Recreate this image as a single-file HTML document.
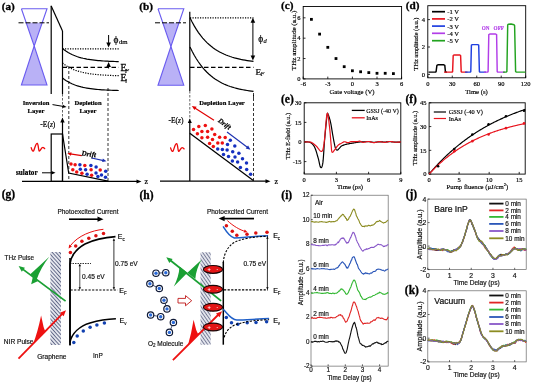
<!DOCTYPE html>
<html><head><meta charset="utf-8"><style>
html,body{margin:0;padding:0;background:#fff;width:533px;height:383px;overflow:hidden}
svg{display:block;will-change:transform}

</style></head><body>
<svg width="533" height="383" viewBox="0 0 533 383">
<rect width="533" height="383" fill="#fff"/>
<text x="1.7" y="9.5" font-family="Liberation Serif" font-size="11.2" text-anchor="start" font-weight="bold" font-style="normal" fill="#000" stroke="#000" stroke-width="0.291" >(a)</text>
<path d="M26.22,22.80 L42.18,22.80 L34.20,46.00" stroke="none" stroke-width="0" fill="#b9b1f6" />
<path d="M34.20,46.00 L21.40,85.00 L47.00,85.00" stroke="none" stroke-width="0" fill="#b9b1f6" />
<path d="M21.40,8.80 L47.00,8.80 L34.20,46.00 L21.40,8.80" stroke="#6a5cf0" stroke-width="1.1" fill="none" />
<path d="M34.20,46.00 L21.40,85.00 L47.00,85.00 L34.20,46.00" stroke="#6a5cf0" stroke-width="1.1" fill="none" />
<line x1="18.5" y1="22.8" x2="49" y2="22.8" stroke="#000" stroke-width="1" stroke-dasharray="5,2" />
<line x1="51.2" y1="5.7" x2="51.2" y2="94" stroke="#000" stroke-width="1.2" />
<line x1="51.2" y1="6" x2="62.5" y2="31" stroke="#000" stroke-width="1.2" />
<line x1="62.5" y1="31" x2="62.5" y2="94" stroke="#000" stroke-width="1.2" />
<line x1="62.5" y1="94" x2="62.5" y2="119" stroke="#555" stroke-width="0.9" stroke-dasharray="2.5,1.5" />
<line x1="62.5" y1="48.8" x2="118.7" y2="48.8" stroke="#000" stroke-width="1.3" stroke-dasharray="1.2,1.3" />
<path d="M62.50,48.50 L64.37,49.99 L66.25,51.32 L68.12,52.50 L69.99,53.55 L71.87,54.48 L73.74,55.31 L75.61,56.05 L77.49,56.71 L79.36,57.30 L81.23,57.82 L83.11,58.28 L84.98,58.69 L86.85,59.06 L88.73,59.38 L90.60,59.67 L92.47,59.93 L94.35,60.16 L96.22,60.36 L98.09,60.54 L99.97,60.70 L101.84,60.85 L103.71,60.98 L105.59,61.09 L107.46,61.19 L109.33,61.28 L111.21,61.36 L113.08,61.43 L114.95,61.49 L116.83,61.55 L118.70,61.60" stroke="#000" stroke-width="1.2" fill="none" />
<line x1="62.5" y1="67.4" x2="118.7" y2="67.4" stroke="#000" stroke-width="1.1" stroke-dasharray="4.5,2.5" />
<path d="M62.50,63.00 L64.37,64.45 L66.25,65.73 L68.12,66.88 L69.99,67.90 L71.87,68.80 L73.74,69.61 L75.61,70.32 L77.49,70.96 L79.36,71.53 L81.23,72.03 L83.11,72.48 L84.98,72.88 L86.85,73.23 L88.73,73.55 L90.60,73.83 L92.47,74.08 L94.35,74.30 L96.22,74.50 L98.09,74.68 L99.97,74.83 L101.84,74.97 L103.71,75.09 L105.59,75.20 L107.46,75.30 L109.33,75.39 L111.21,75.47 L113.08,75.54 L114.95,75.60 L116.83,75.65 L118.70,75.70" stroke="#000" stroke-width="1.2" fill="none" stroke-dasharray="1.2,1.3" />
<path d="M62.50,78.00 L64.37,79.42 L66.25,80.69 L68.12,81.82 L69.99,82.82 L71.87,83.71 L73.74,84.50 L75.61,85.21 L77.49,85.83 L79.36,86.39 L81.23,86.89 L83.11,87.33 L84.98,87.72 L86.85,88.07 L88.73,88.38 L90.60,88.66 L92.47,88.91 L94.35,89.12 L96.22,89.32 L98.09,89.49 L99.97,89.65 L101.84,89.78 L103.71,89.90 L105.59,90.01 L107.46,90.11 L109.33,90.19 L111.21,90.27 L113.08,90.34 L114.95,90.40 L116.83,90.45 L118.70,90.50" stroke="#000" stroke-width="1.2" fill="none" />
<line x1="108.6" y1="35" x2="108.6" y2="44.1" stroke="#000" stroke-width="1" />
<path d="M108.60,47.60 L106.30,42.60 L110.90,42.60 Z" fill="#000"/>
<line x1="108.6" y1="68.5" x2="108.6" y2="65.4" stroke="#000" stroke-width="1" />
<path d="M108.60,61.90 L110.90,66.90 L106.30,66.90 Z" fill="#000"/>
<text x="113.4" y="43" font-family="Liberation Serif" font-size="9.4" text-anchor="start" font-weight="normal" font-style="normal" fill="#000" stroke="#000" stroke-width="0.244" >ϕ</text>
<text x="118.9" y="44.4" font-family="Liberation Serif" font-size="6.8" text-anchor="start" font-weight="normal" font-style="normal" fill="#000" stroke="#000" stroke-width="0.177" >dm</text>
<text x="120.6" y="70.9" font-family="Liberation Serif" font-size="9.9" text-anchor="start" font-weight="normal" font-style="normal" fill="#000" stroke="#000" stroke-width="0.257" >E</text>
<text x="124.9" y="72.6" font-family="Liberation Serif" font-size="6.6" text-anchor="start" font-weight="normal" font-style="italic" fill="#000" stroke="#000" stroke-width="0.172" >F</text>
<text x="120.6" y="81" font-family="Liberation Serif" font-size="9.9" text-anchor="start" font-weight="normal" font-style="normal" fill="#000" stroke="#000" stroke-width="0.257" >E</text>
<text x="125.3" y="83" font-family="Liberation Serif" font-size="6.6" text-anchor="start" font-weight="normal" font-style="italic" fill="#000" stroke="#000" stroke-width="0.172" >i</text>
<line x1="68.8" y1="66" x2="68.8" y2="181" stroke="#000" stroke-width="0.8" stroke-dasharray="3,2" />
<line x1="108" y1="88" x2="108" y2="181" stroke="#000" stroke-width="0.8" stroke-dasharray="3,2" />
<text x="36" y="104.5" font-family="Liberation Serif" font-size="6.6" text-anchor="middle" font-weight="bold" font-style="normal" fill="#000" stroke="#000" stroke-width="0.172" >Inversion</text>
<text x="36" y="112.5" font-family="Liberation Serif" font-size="6.6" text-anchor="middle" font-weight="bold" font-style="normal" fill="#000" stroke="#000" stroke-width="0.172" >Layer</text>
<text x="88" y="104.5" font-family="Liberation Serif" font-size="6.6" text-anchor="middle" font-weight="bold" font-style="normal" fill="#000" stroke="#000" stroke-width="0.172" >Depletion</text>
<text x="88" y="113" font-family="Liberation Serif" font-size="6.6" text-anchor="middle" font-weight="bold" font-style="normal" fill="#000" stroke="#000" stroke-width="0.172" >Layer</text>
<line x1="52.5" y1="104.6" x2="63.83970072460444" y2="106.53016182546459" stroke="#000" stroke-width="1" />
<path d="M66.60,107.00 L62.37,108.00 L62.94,104.65 Z" fill="#000"/>
<text x="40.3" y="127.3" font-family="Liberation Serif" font-size="7.5" text-anchor="start" font-weight="normal" font-style="normal" fill="#000" stroke="#000" stroke-width="0.195" >-E(<tspan font-style="italic">z</tspan>)</text>
<line x1="62.5" y1="181" x2="62.5" y2="121.0" stroke="#000" stroke-width="1.2" />
<path d="M62.50,117.50 L64.70,122.50 L60.30,122.50 Z" fill="#000"/>
<rect x="51.2" y="134" width="11.3" height="47.4" fill="none" stroke="#000" stroke-width="1.2"/>
<path d="M62.50,134.00 L68.70,173.00 L108.00,181.20" stroke="#000" stroke-width="1.2" fill="none" />
<line x1="22" y1="181.4" x2="138.0" y2="181.4" stroke="#000" stroke-width="1.2" />
<path d="M141.50,181.40 L136.50,183.40 L136.50,179.40 Z" fill="#000"/>
<text x="144.5" y="184" font-family="Liberation Serif" font-size="8" text-anchor="start" font-weight="normal" font-style="normal" fill="#000" stroke="#000" stroke-width="0.208" >z</text>
<path d="M31.2,147.6 C32,150.5 32.8,151.8 33.6,150.8 C34.5,149.5 35.8,142.8 37.3,143.4 C38.5,144 38.4,151.5 39.5,151 C40.5,150.5 41.5,147.5 42.8,147.4 C43.5,147.3 44,148.2 44.7,148.6" stroke="#ee0a0a" stroke-width="1.3" fill="none" transform="translate(0,0)" stroke-linecap="round" stroke-linejoin="round"/>
<clipPath id="clipIns"><rect x="16" y="160" width="40" height="20"/></clipPath>
<text x="37.6" y="175.4" font-family="Liberation Serif" font-size="7.2" text-anchor="end" font-weight="bold" font-style="normal" fill="#000" stroke="#000" stroke-width="0.187" clip-path="url(#clipIns)">Insulator</text>
<line x1="42" y1="172.8" x2="52.7" y2="172.8" stroke="#000" stroke-width="1" />
<path d="M55.50,172.80 L51.50,174.60 L51.50,171.00 Z" fill="#000"/>
<line x1="81.7" y1="155.6" x2="70.06788367148081" y2="153.82287111647625" stroke="#e00000" stroke-width="1.2" />
<path d="M67.30,153.40 L71.53,152.22 L70.98,155.78 Z" fill="#e00000"/>
<text x="0" y="0" font-family="Liberation Serif" font-size="7.3" text-anchor="start" font-weight="bold" font-style="italic" fill="#000" stroke="#000" stroke-width="0.19" transform="translate(81.3,155.6) rotate(6)">Drift</text>
<line x1="91.6" y1="158" x2="103.66324033676838" y2="160.6082681809229" stroke="#1a2fb0" stroke-width="1.2" />
<path d="M106.40,161.20 L102.11,162.11 L102.87,158.60 Z" fill="#1a2fb0"/>
<circle cx="71.00" cy="164.00" r="1.75" fill="#ee1111" stroke="none" stroke-width="0"/>
<circle cx="75.10" cy="164.80" r="1.75" fill="#ee1111" stroke="none" stroke-width="0"/>
<circle cx="79.90" cy="164.80" r="1.75" fill="#1530c0" stroke="none" stroke-width="0"/>
<circle cx="84.80" cy="165.40" r="1.75" fill="#ee1111" stroke="none" stroke-width="0"/>
<circle cx="90.90" cy="165.40" r="1.75" fill="#1530c0" stroke="none" stroke-width="0"/>
<circle cx="96.10" cy="167.10" r="1.75" fill="#1530c0" stroke="none" stroke-width="0"/>
<circle cx="72.80" cy="169.70" r="1.75" fill="#ee1111" stroke="none" stroke-width="0"/>
<circle cx="80.30" cy="169.20" r="1.75" fill="#1530c0" stroke="none" stroke-width="0"/>
<circle cx="85.60" cy="169.80" r="1.75" fill="#1530c0" stroke="none" stroke-width="0"/>
<circle cx="91.10" cy="169.80" r="1.75" fill="#ee1111" stroke="none" stroke-width="0"/>
<circle cx="100.20" cy="170.10" r="1.75" fill="#ee1111" stroke="none" stroke-width="0"/>
<circle cx="105.70" cy="171.30" r="1.75" fill="#1530c0" stroke="none" stroke-width="0"/>
<circle cx="76.70" cy="171.90" r="1.75" fill="#ee1111" stroke="none" stroke-width="0"/>
<circle cx="81.90" cy="173.20" r="1.75" fill="#ee1111" stroke="none" stroke-width="0"/>
<circle cx="87.10" cy="174.20" r="1.75" fill="#1530c0" stroke="none" stroke-width="0"/>
<circle cx="91.60" cy="175.30" r="1.75" fill="#ee1111" stroke="none" stroke-width="0"/>
<circle cx="96.00" cy="173.00" r="1.75" fill="#1530c0" stroke="none" stroke-width="0"/>
<circle cx="101.50" cy="175.00" r="1.75" fill="#1530c0" stroke="none" stroke-width="0"/>
<circle cx="97.90" cy="176.50" r="1.75" fill="#1530c0" stroke="none" stroke-width="0"/>
<circle cx="105.50" cy="177.20" r="1.75" fill="#1530c0" stroke="none" stroke-width="0"/>
<text x="139.2" y="9.5" font-family="Liberation Serif" font-size="11.2" text-anchor="start" font-weight="bold" font-style="normal" fill="#000" stroke="#000" stroke-width="0.291" >(b)</text>
<path d="M162.79,22.80 L179.01,22.80 L170.90,46.50" stroke="none" stroke-width="0" fill="#b9b1f6" />
<path d="M170.90,46.50 L158.00,85.30 L183.80,85.30" stroke="none" stroke-width="0" fill="#b9b1f6" />
<path d="M158.00,8.80 L183.80,8.80 L170.90,46.50 L158.00,8.80" stroke="#6a5cf0" stroke-width="1.1" fill="none" />
<path d="M170.90,46.50 L158.00,85.30 L183.80,85.30 L170.90,46.50" stroke="#6a5cf0" stroke-width="1.1" fill="none" />
<line x1="155" y1="22.8" x2="186" y2="22.8" stroke="#000" stroke-width="1" stroke-dasharray="5,2" />
<line x1="189.8" y1="11.7" x2="189.8" y2="91" stroke="#000" stroke-width="1.2" />
<line x1="189.8" y1="91" x2="189.8" y2="120" stroke="#555" stroke-width="0.9" stroke-dasharray="2.5,1.5" />
<line x1="253.5" y1="93" x2="253.5" y2="181" stroke="#000" stroke-width="0.8" stroke-dasharray="3,2" />
<line x1="190" y1="17.8" x2="253.5" y2="17.8" stroke="#000" stroke-width="1.3" stroke-dasharray="1.2,1.3" />
<path d="M190.00,17.80 L192.12,22.04 L194.23,25.88 L196.35,29.38 L198.47,32.55 L200.58,35.43 L202.70,38.05 L204.82,40.43 L206.93,42.59 L209.05,44.55 L211.17,46.33 L213.28,47.95 L215.40,49.42 L217.52,50.76 L219.63,51.97 L221.75,53.07 L223.87,54.07 L225.98,54.98 L228.10,55.80 L230.22,56.55 L232.33,57.23 L234.45,57.85 L236.57,58.41 L238.68,58.92 L240.80,59.39 L242.92,59.81 L245.03,60.19 L247.15,60.54 L249.27,60.85 L251.38,61.14 L253.50,61.40" stroke="#000" stroke-width="1.2" fill="none" />
<line x1="190" y1="67.4" x2="253.5" y2="67.4" stroke="#000" stroke-width="1.1" stroke-dasharray="4.5,2.5" />
<path d="M190.00,47.00 L192.12,51.31 L194.23,55.23 L196.35,58.79 L198.47,62.02 L200.58,64.96 L202.70,67.62 L204.82,70.04 L206.93,72.24 L209.05,74.24 L211.17,76.06 L213.28,77.70 L215.40,79.20 L217.52,80.56 L219.63,81.80 L221.75,82.92 L223.87,83.94 L225.98,84.86 L228.10,85.70 L230.22,86.46 L232.33,87.16 L234.45,87.79 L236.57,88.36 L238.68,88.88 L240.80,89.35 L242.92,89.78 L245.03,90.17 L247.15,90.52 L249.27,90.84 L251.38,91.14 L253.50,91.40" stroke="#000" stroke-width="1.2" fill="none" />
<line x1="252.9" y1="40" x2="252.9" y2="21.3" stroke="#000" stroke-width="1" />
<path d="M252.90,17.80 L255.20,22.80 L250.60,22.80 Z" fill="#000"/>
<line x1="252.9" y1="40" x2="252.9" y2="57.1" stroke="#000" stroke-width="1" />
<path d="M252.90,60.60 L250.60,55.60 L255.20,55.60 Z" fill="#000"/>
<text x="258.2" y="41.9" font-family="Liberation Serif" font-size="9.4" text-anchor="start" font-weight="normal" font-style="normal" fill="#000" stroke="#000" stroke-width="0.244" >ϕ</text>
<text x="263.4" y="43.2" font-family="Liberation Serif" font-size="6.4" text-anchor="start" font-weight="normal" font-style="italic" fill="#000" stroke="#000" stroke-width="0.166" >d</text>
<text x="255.4" y="74.5" font-family="Liberation Serif" font-size="9.2" text-anchor="start" font-weight="normal" font-style="normal" fill="#000" stroke="#000" stroke-width="0.239" >E</text>
<text x="260.4" y="76.3" font-family="Liberation Serif" font-size="6.2" text-anchor="start" font-weight="normal" font-style="italic" fill="#000" stroke="#000" stroke-width="0.161" >F</text>
<line x1="253.5" y1="95" x2="253.5" y2="98" stroke="#000" stroke-width="0.8" />
<text x="222" y="104.5" font-family="Liberation Serif" font-size="6.6" text-anchor="middle" font-weight="bold" font-style="normal" fill="#000" stroke="#000" stroke-width="0.172" >Depletion Layer</text>
<text x="168.5" y="123.3" font-family="Liberation Serif" font-size="7.5" text-anchor="start" font-weight="normal" font-style="normal" fill="#000" stroke="#000" stroke-width="0.195" >-E(<tspan font-style="italic">z</tspan>)</text>
<line x1="189.8" y1="181" x2="189.8" y2="121.65" stroke="#000" stroke-width="1.2" />
<path d="M189.80,118.50 L191.80,123.00 L187.80,123.00 Z" fill="#000"/>
<path d="M189.80,133.30 L253.30,180.50" stroke="#000" stroke-width="1.3" fill="none" />
<line x1="160" y1="181.2" x2="267.0" y2="181.2" stroke="#000" stroke-width="1.2" />
<path d="M270.50,181.20 L265.50,183.20 L265.50,179.20 Z" fill="#000"/>
<text x="274.6" y="184" font-family="Liberation Serif" font-size="8" text-anchor="start" font-weight="normal" font-style="normal" fill="#000" stroke="#000" stroke-width="0.208" >z</text>
<path d="M31.2,147.6 C32,150.5 32.8,151.8 33.6,150.8 C34.5,149.5 35.8,142.8 37.3,143.4 C38.5,144 38.4,151.5 39.5,151 C40.5,150.5 41.5,147.5 42.8,147.4 C43.5,147.3 44,148.2 44.7,148.6" stroke="#ee0a0a" stroke-width="1.3" fill="none" transform="translate(139.4,0.3)" stroke-linecap="round" stroke-linejoin="round"/>
<line x1="214" y1="120.3" x2="194.44816080586278" y2="107.70579727584854" stroke="#e00000" stroke-width="1.1" />
<path d="M191.80,106.00 L196.67,106.76 L194.50,110.12 Z" fill="#e00000"/>
<text x="0" y="0" font-family="Liberation Serif" font-size="7" text-anchor="start" font-weight="bold" font-style="italic" fill="#000" stroke="#000" stroke-width="0.182" transform="translate(217.5,121.5) rotate(37)">Drift</text>
<line x1="227" y1="132" x2="247.9838597533827" y2="147.80486458020738" stroke="#1a2fb0" stroke-width="1.1" />
<path d="M250.50,149.70 L245.70,148.59 L248.11,145.40 Z" fill="#1a2fb0"/>
<circle cx="198.80" cy="126.40" r="1.75" fill="#ee1111" stroke="none" stroke-width="0"/>
<circle cx="205.30" cy="125.60" r="1.75" fill="#ee1111" stroke="none" stroke-width="0"/>
<circle cx="193.50" cy="129.50" r="1.75" fill="#ee1111" stroke="none" stroke-width="0"/>
<circle cx="201.90" cy="131.60" r="1.75" fill="#ee1111" stroke="none" stroke-width="0"/>
<circle cx="207.60" cy="131.60" r="1.75" fill="#ee1111" stroke="none" stroke-width="0"/>
<circle cx="211.90" cy="129.00" r="1.75" fill="#ee1111" stroke="none" stroke-width="0"/>
<circle cx="197.40" cy="133.70" r="1.75" fill="#ee1111" stroke="none" stroke-width="0"/>
<circle cx="214.70" cy="134.50" r="1.75" fill="#ee1111" stroke="none" stroke-width="0"/>
<circle cx="201.90" cy="137.80" r="1.75" fill="#ee1111" stroke="none" stroke-width="0"/>
<circle cx="207.60" cy="137.20" r="1.75" fill="#ee1111" stroke="none" stroke-width="0"/>
<circle cx="212.50" cy="139.60" r="1.75" fill="#ee1111" stroke="none" stroke-width="0"/>
<circle cx="219.60" cy="137.20" r="1.75" fill="#ee1111" stroke="none" stroke-width="0"/>
<circle cx="225.20" cy="137.40" r="1.75" fill="#ee1111" stroke="none" stroke-width="0"/>
<circle cx="209.60" cy="143.50" r="1.75" fill="#ee1111" stroke="none" stroke-width="0"/>
<circle cx="217.80" cy="142.90" r="1.75" fill="#ee1111" stroke="none" stroke-width="0"/>
<circle cx="222.30" cy="142.90" r="1.75" fill="#ee1111" stroke="none" stroke-width="0"/>
<circle cx="213.30" cy="146.60" r="1.75" fill="#ee1111" stroke="none" stroke-width="0"/>
<circle cx="230.30" cy="140.20" r="1.75" fill="#1530c0" stroke="none" stroke-width="0"/>
<circle cx="227.50" cy="144.40" r="1.75" fill="#1530c0" stroke="none" stroke-width="0"/>
<circle cx="234.80" cy="146.00" r="1.75" fill="#1530c0" stroke="none" stroke-width="0"/>
<circle cx="217.70" cy="149.10" r="1.75" fill="#1530c0" stroke="none" stroke-width="0"/>
<circle cx="222.40" cy="149.60" r="1.75" fill="#1530c0" stroke="none" stroke-width="0"/>
<circle cx="227.10" cy="150.10" r="1.75" fill="#1530c0" stroke="none" stroke-width="0"/>
<circle cx="232.70" cy="151.70" r="1.75" fill="#1530c0" stroke="none" stroke-width="0"/>
<circle cx="238.90" cy="153.30" r="1.75" fill="#1530c0" stroke="none" stroke-width="0"/>
<circle cx="223.50" cy="154.60" r="1.75" fill="#1530c0" stroke="none" stroke-width="0"/>
<circle cx="228.50" cy="156.40" r="1.75" fill="#1530c0" stroke="none" stroke-width="0"/>
<circle cx="235.00" cy="157.10" r="1.75" fill="#1530c0" stroke="none" stroke-width="0"/>
<circle cx="242.50" cy="158.80" r="1.75" fill="#1530c0" stroke="none" stroke-width="0"/>
<circle cx="232.40" cy="161.10" r="1.75" fill="#1530c0" stroke="none" stroke-width="0"/>
<circle cx="237.60" cy="161.90" r="1.75" fill="#1530c0" stroke="none" stroke-width="0"/>
<circle cx="246.50" cy="163.00" r="1.75" fill="#1530c0" stroke="none" stroke-width="0"/>
<circle cx="240.40" cy="167.40" r="1.75" fill="#1530c0" stroke="none" stroke-width="0"/>
<circle cx="246.70" cy="169.50" r="1.75" fill="#1530c0" stroke="none" stroke-width="0"/>
<circle cx="250.60" cy="174.20" r="1.75" fill="#1530c0" stroke="none" stroke-width="0"/>
<text x="281" y="9.2" font-family="Liberation Serif" font-size="11.2" text-anchor="start" font-weight="bold" font-style="normal" fill="#000" stroke="#000" stroke-width="0.291" >(c)</text>
<rect x="303.2" y="6.5" width="98.4" height="72.4" fill="none" stroke="#000" stroke-width="0.9"/>
<line x1="303.2" y1="78.9" x2="305.5" y2="78.9" stroke="#000" stroke-width="0.8" />
<text x="300.5" y="81.2" font-family="Liberation Serif" font-size="6.5" text-anchor="end" font-weight="normal" font-style="normal" fill="#000" stroke="#000" stroke-width="0.169" >0</text>
<line x1="303.2" y1="58.540000000000006" x2="305.5" y2="58.540000000000006" stroke="#000" stroke-width="0.8" />
<text x="300.5" y="60.84" font-family="Liberation Serif" font-size="6.5" text-anchor="end" font-weight="normal" font-style="normal" fill="#000" stroke="#000" stroke-width="0.169" >2</text>
<line x1="303.2" y1="38.18000000000001" x2="305.5" y2="38.18000000000001" stroke="#000" stroke-width="0.8" />
<text x="300.5" y="40.480000000000004" font-family="Liberation Serif" font-size="6.5" text-anchor="end" font-weight="normal" font-style="normal" fill="#000" stroke="#000" stroke-width="0.169" >4</text>
<line x1="303.2" y1="17.820000000000007" x2="305.5" y2="17.820000000000007" stroke="#000" stroke-width="0.8" />
<text x="300.5" y="20.120000000000008" font-family="Liberation Serif" font-size="6.5" text-anchor="end" font-weight="normal" font-style="normal" fill="#000" stroke="#000" stroke-width="0.169" >6</text>
<line x1="303.2" y1="78.9" x2="303.2" y2="76.6" stroke="#000" stroke-width="0.8" />
<text x="303.2" y="86.3" font-family="Liberation Serif" font-size="6.5" text-anchor="middle" font-weight="normal" font-style="normal" fill="#000" stroke="#000" stroke-width="0.169" >-6</text>
<line x1="327.8" y1="78.9" x2="327.8" y2="76.6" stroke="#000" stroke-width="0.8" />
<text x="327.8" y="86.3" font-family="Liberation Serif" font-size="6.5" text-anchor="middle" font-weight="normal" font-style="normal" fill="#000" stroke="#000" stroke-width="0.169" >-3</text>
<line x1="352.4" y1="78.9" x2="352.4" y2="76.6" stroke="#000" stroke-width="0.8" />
<text x="352.4" y="86.3" font-family="Liberation Serif" font-size="6.5" text-anchor="middle" font-weight="normal" font-style="normal" fill="#000" stroke="#000" stroke-width="0.169" >0</text>
<line x1="377.0" y1="78.9" x2="377.0" y2="76.6" stroke="#000" stroke-width="0.8" />
<text x="377.0" y="86.3" font-family="Liberation Serif" font-size="6.5" text-anchor="middle" font-weight="normal" font-style="normal" fill="#000" stroke="#000" stroke-width="0.169" >3</text>
<line x1="401.59999999999997" y1="78.9" x2="401.59999999999997" y2="76.6" stroke="#000" stroke-width="0.8" />
<text x="401.59999999999997" y="86.3" font-family="Liberation Serif" font-size="6.5" text-anchor="middle" font-weight="normal" font-style="normal" fill="#000" stroke="#000" stroke-width="0.169" >6</text>
<text x="352" y="94" font-family="Liberation Serif" font-size="6.7" text-anchor="middle" font-weight="normal" font-style="normal" fill="#000" stroke="#000" stroke-width="0.174" >Gate voltage (V)</text>
<text x="0" y="0" font-family="Liberation Serif" font-size="7.1" text-anchor="middle" font-weight="normal" font-style="normal" fill="#000" stroke="#000" stroke-width="0.185" transform="translate(295.6,40.4) rotate(-90)">THz amplitude (a.u.)</text>
<rect x="310.00" y="17.95" width="2.8" height="2.8" fill="#000"/>
<rect x="318.20" y="32.71" width="2.8" height="2.8" fill="#000"/>
<rect x="326.40" y="45.94" width="2.8" height="2.8" fill="#000"/>
<rect x="334.60" y="57.14" width="2.8" height="2.8" fill="#000"/>
<rect x="342.80" y="65.28" width="2.8" height="2.8" fill="#000"/>
<rect x="351.00" y="69.36" width="2.8" height="2.8" fill="#000"/>
<rect x="359.20" y="70.37" width="2.8" height="2.8" fill="#000"/>
<rect x="367.40" y="71.19" width="2.8" height="2.8" fill="#000"/>
<rect x="375.60" y="71.90" width="2.8" height="2.8" fill="#000"/>
<rect x="383.80" y="71.90" width="2.8" height="2.8" fill="#000"/>
<rect x="392.00" y="72.21" width="2.8" height="2.8" fill="#000"/>
<text x="405.7" y="9.4" font-family="Liberation Serif" font-size="11.2" text-anchor="start" font-weight="bold" font-style="normal" fill="#000" stroke="#000" stroke-width="0.291" >(d)</text>
<rect x="427.8" y="5.7" width="97.9" height="72.1" fill="none" stroke="#000" stroke-width="0.9"/>
<line x1="427.8" y1="74.4" x2="430" y2="74.4" stroke="#000" stroke-width="0.8" />
<text x="425" y="76.7" font-family="Liberation Serif" font-size="6.5" text-anchor="end" font-weight="normal" font-style="normal" fill="#000" stroke="#000" stroke-width="0.169" >0</text>
<line x1="427.8" y1="47.00000000000001" x2="430" y2="47.00000000000001" stroke="#000" stroke-width="0.8" />
<text x="425" y="49.300000000000004" font-family="Liberation Serif" font-size="6.5" text-anchor="end" font-weight="normal" font-style="normal" fill="#000" stroke="#000" stroke-width="0.169" >2</text>
<line x1="427.8" y1="19.60000000000001" x2="430" y2="19.60000000000001" stroke="#000" stroke-width="0.8" />
<text x="425" y="21.90000000000001" font-family="Liberation Serif" font-size="6.5" text-anchor="end" font-weight="normal" font-style="normal" fill="#000" stroke="#000" stroke-width="0.169" >4</text>
<line x1="427.8" y1="77.8" x2="427.8" y2="75.6" stroke="#000" stroke-width="0.8" />
<text x="427.8" y="86.3" font-family="Liberation Serif" font-size="6.5" text-anchor="middle" font-weight="normal" font-style="normal" fill="#000" stroke="#000" stroke-width="0.169" >0</text>
<line x1="452.27500000000003" y1="77.8" x2="452.27500000000003" y2="75.6" stroke="#000" stroke-width="0.8" />
<text x="452.27500000000003" y="86.3" font-family="Liberation Serif" font-size="6.5" text-anchor="middle" font-weight="normal" font-style="normal" fill="#000" stroke="#000" stroke-width="0.169" >30</text>
<line x1="476.75" y1="77.8" x2="476.75" y2="75.6" stroke="#000" stroke-width="0.8" />
<text x="476.75" y="86.3" font-family="Liberation Serif" font-size="6.5" text-anchor="middle" font-weight="normal" font-style="normal" fill="#000" stroke="#000" stroke-width="0.169" >60</text>
<line x1="501.225" y1="77.8" x2="501.225" y2="75.6" stroke="#000" stroke-width="0.8" />
<text x="501.225" y="86.3" font-family="Liberation Serif" font-size="6.5" text-anchor="middle" font-weight="normal" font-style="normal" fill="#000" stroke="#000" stroke-width="0.169" >90</text>
<line x1="525.7" y1="77.8" x2="525.7" y2="75.6" stroke="#000" stroke-width="0.8" />
<text x="525.7" y="86.3" font-family="Liberation Serif" font-size="6.5" text-anchor="middle" font-weight="normal" font-style="normal" fill="#000" stroke="#000" stroke-width="0.169" >120</text>
<text x="476.5" y="93.5" font-family="Liberation Serif" font-size="6.7" text-anchor="middle" font-weight="normal" font-style="normal" fill="#000" stroke="#000" stroke-width="0.174" >Time (s)</text>
<text x="0" y="0" font-family="Liberation Serif" font-size="6.3" text-anchor="middle" font-weight="normal" font-style="normal" fill="#000" stroke="#000" stroke-width="0.164" transform="translate(417.6,44) rotate(-90)">THz amplitude (a.u.)</text>
<line x1="432" y1="11.7" x2="445" y2="11.7" stroke="#000000" stroke-width="1.7" />
<text x="447.2" y="14.1" font-family="Liberation Serif" font-size="6.6" text-anchor="start" font-weight="normal" font-style="normal" fill="#000" stroke="#000" stroke-width="0.172" >-1 V</text>
<line x1="432" y1="18.9" x2="445" y2="18.9" stroke="#e8141e" stroke-width="1.7" />
<text x="447.2" y="21.299999999999997" font-family="Liberation Serif" font-size="6.6" text-anchor="start" font-weight="normal" font-style="normal" fill="#000" stroke="#000" stroke-width="0.172" >-2 V</text>
<line x1="432" y1="26.1" x2="445" y2="26.1" stroke="#1f3fe0" stroke-width="1.7" />
<text x="447.2" y="28.5" font-family="Liberation Serif" font-size="6.6" text-anchor="start" font-weight="normal" font-style="normal" fill="#000" stroke="#000" stroke-width="0.172" >-3 V</text>
<line x1="432" y1="33.3" x2="445" y2="33.3" stroke="#b23ee8" stroke-width="1.7" />
<text x="447.2" y="35.699999999999996" font-family="Liberation Serif" font-size="6.6" text-anchor="start" font-weight="normal" font-style="normal" fill="#000" stroke="#000" stroke-width="0.172" >-4 V</text>
<line x1="432" y1="40.7" x2="445" y2="40.7" stroke="#22a31f" stroke-width="1.7" />
<text x="447.2" y="43.1" font-family="Liberation Serif" font-size="6.6" text-anchor="start" font-weight="normal" font-style="normal" fill="#000" stroke="#000" stroke-width="0.172" >-5 V</text>
<text x="481.8" y="30.4" font-family="Liberation Serif" font-size="5.2" text-anchor="start" font-weight="bold" font-style="normal" fill="#b23ee8" stroke="#b23ee8" stroke-width="0.135" >ON</text>
<text x="493.6" y="30.4" font-family="Liberation Serif" font-size="5.2" text-anchor="start" font-weight="bold" font-style="normal" fill="#b23ee8" stroke="#b23ee8" stroke-width="0.135" >OFF</text>
<path d="M428.50,72.10 L435.50,72.10 L436.10,71.60 L436.90,65.40 L437.90,64.80 L443.80,64.80 L444.80,65.40 L445.40,71.60 L446.00,72.10 L447.00,72.10" stroke="#000000" stroke-width="1.45" fill="none" stroke-linejoin="round"/>
<path d="M444.00,72.10 L452.00,72.10 L452.60,71.60 L453.20,55.50 L454.20,54.90 L459.60,54.90 L460.60,55.50 L461.20,71.60 L461.80,72.10 L467.50,72.10" stroke="#e8141e" stroke-width="1.45" fill="none" stroke-linejoin="round"/>
<path d="M465.00,72.10 L470.20,72.10 L470.80,71.60 L471.40,45.20 L472.40,44.60 L477.70,44.60 L478.70,45.20 L479.40,71.60 L480.00,72.10 L486.00,72.10" stroke="#1f3fe0" stroke-width="1.45" fill="none" stroke-linejoin="round"/>
<path d="M484.00,72.10 L487.50,72.10 L488.10,71.60 L488.80,34.60 L489.80,34.00 L495.60,34.00 L496.60,34.60 L497.20,71.60 L497.80,72.10 L505.00,72.10" stroke="#b23ee8" stroke-width="1.45" fill="none" stroke-linejoin="round"/>
<path d="M503.00,72.10 L506.30,72.10 L506.90,71.50 L507.70,25.00 L508.30,24.30 L511.00,24.00 L514.00,24.80 L514.60,25.40 L515.60,71.50 L516.20,72.10 L525.50,72.10" stroke="#22a31f" stroke-width="1.45" fill="none" stroke-linejoin="round"/>
<text x="281" y="103" font-family="Liberation Serif" font-size="11.5" text-anchor="start" font-weight="bold" font-style="normal" fill="#000" stroke="#000" stroke-width="0.299" >(e)</text>
<rect x="304.2" y="102.8" width="96.6" height="71.2" fill="none" stroke="#000" stroke-width="0.9"/>
<line x1="304.2" y1="102.78999999999999" x2="306.4" y2="102.78999999999999" stroke="#000" stroke-width="0.8" />
<text x="301.5" y="105.08999999999999" font-family="Liberation Serif" font-size="6.5" text-anchor="end" font-weight="normal" font-style="normal" fill="#000" stroke="#000" stroke-width="0.169" >30</text>
<line x1="304.2" y1="122.395" x2="306.4" y2="122.395" stroke="#000" stroke-width="0.8" />
<text x="301.5" y="124.695" font-family="Liberation Serif" font-size="6.5" text-anchor="end" font-weight="normal" font-style="normal" fill="#000" stroke="#000" stroke-width="0.169" >15</text>
<line x1="304.2" y1="142.0" x2="306.4" y2="142.0" stroke="#000" stroke-width="0.8" />
<text x="301.5" y="144.3" font-family="Liberation Serif" font-size="6.5" text-anchor="end" font-weight="normal" font-style="normal" fill="#000" stroke="#000" stroke-width="0.169" >0</text>
<line x1="304.2" y1="161.605" x2="306.4" y2="161.605" stroke="#000" stroke-width="0.8" />
<text x="301.5" y="163.905" font-family="Liberation Serif" font-size="6.5" text-anchor="end" font-weight="normal" font-style="normal" fill="#000" stroke="#000" stroke-width="0.169" >-15</text>
<line x1="304.2" y1="174" x2="304.2" y2="171.8" stroke="#000" stroke-width="0.8" />
<text x="304.2" y="181.5" font-family="Liberation Serif" font-size="6.5" text-anchor="middle" font-weight="normal" font-style="normal" fill="#000" stroke="#000" stroke-width="0.169" >0</text>
<line x1="336.399" y1="174" x2="336.399" y2="171.8" stroke="#000" stroke-width="0.8" />
<text x="336.399" y="181.5" font-family="Liberation Serif" font-size="6.5" text-anchor="middle" font-weight="normal" font-style="normal" fill="#000" stroke="#000" stroke-width="0.169" >3</text>
<line x1="368.59799999999996" y1="174" x2="368.59799999999996" y2="171.8" stroke="#000" stroke-width="0.8" />
<text x="368.59799999999996" y="181.5" font-family="Liberation Serif" font-size="6.5" text-anchor="middle" font-weight="normal" font-style="normal" fill="#000" stroke="#000" stroke-width="0.169" >6</text>
<line x1="400.797" y1="174" x2="400.797" y2="171.8" stroke="#000" stroke-width="0.8" />
<text x="400.797" y="181.5" font-family="Liberation Serif" font-size="6.5" text-anchor="middle" font-weight="normal" font-style="normal" fill="#000" stroke="#000" stroke-width="0.169" >9</text>
<text x="350" y="188.5" font-family="Liberation Serif" font-size="6.7" text-anchor="middle" font-weight="normal" font-style="normal" fill="#000" stroke="#000" stroke-width="0.174" >Time (ps)</text>
<text x="0" y="0" font-family="Liberation Serif" font-size="6.5" text-anchor="middle" font-weight="normal" font-style="normal" fill="#000" stroke="#000" stroke-width="0.169" transform="translate(290,136) rotate(-90)">THz E-field (a.u.)</text>
<line x1="351.8" y1="110.4" x2="364.7" y2="110.4" stroke="#000" stroke-width="1.3" />
<text x="366.2" y="112.5" font-family="Liberation Serif" font-size="6.0" text-anchor="start" font-weight="normal" font-style="normal" fill="#000" stroke="#000" stroke-width="0.156" >GSSJ (-40 V)</text>
<line x1="351.8" y1="117.8" x2="364.7" y2="117.8" stroke="#e8141e" stroke-width="1.3" />
<text x="366.2" y="120.1" font-family="Liberation Serif" font-size="6.0" text-anchor="start" font-weight="normal" font-style="normal" fill="#000" stroke="#000" stroke-width="0.156" >InAs</text>
<path d="M304.20,142.00 L304.67,142.00 L305.30,141.97 L306.05,141.93 L306.88,141.91 L307.74,141.92 L308.59,141.99 L309.40,142.14 L310.10,142.39 L310.73,142.72 L311.33,143.10 L311.90,143.54 L312.45,144.04 L312.98,144.63 L313.50,145.30 L314.00,146.08 L314.50,146.97 L314.99,148.01 L315.47,149.21 L315.94,150.53 L316.39,151.93 L316.83,153.38 L317.25,154.82 L317.65,156.23 L318.05,157.55 L318.42,158.92 L318.77,160.40 L319.10,161.92 L319.41,163.41 L319.72,164.78 L320.02,165.94 L320.32,166.83 L320.62,167.36 L320.92,167.58 L321.22,167.62 L321.51,167.44 L321.80,167.03 L322.08,166.36 L322.36,165.43 L322.62,164.19 L322.88,162.65 L323.11,160.69 L323.32,158.30 L323.53,155.57 L323.72,152.59 L323.92,149.45 L324.12,146.25 L324.35,143.08 L324.59,140.04 L324.87,136.90 L325.19,133.47 L325.52,129.92 L325.86,126.38 L326.20,123.02 L326.52,119.98 L326.81,117.41 L327.06,115.47 L327.26,114.18 L327.42,113.43 L327.55,113.10 L327.66,113.12 L327.77,113.40 L327.89,113.83 L328.05,114.33 L328.24,114.81 L328.48,115.34 L328.75,116.03 L329.05,116.86 L329.36,117.81 L329.67,118.87 L329.99,120.03 L330.31,121.25 L330.60,122.53 L330.89,123.91 L331.17,125.46 L331.46,127.11 L331.74,128.83 L332.02,130.58 L332.30,132.32 L332.58,134.01 L332.86,135.60 L333.14,137.15 L333.43,138.75 L333.72,140.35 L334.01,141.90 L334.30,143.38 L334.58,144.74 L334.85,145.95 L335.11,146.97 L335.36,147.78 L335.59,148.44 L335.82,148.95 L336.04,149.34 L336.25,149.62 L336.47,149.83 L336.70,149.99 L336.94,150.10 L337.18,150.15 L337.42,150.09 L337.66,149.95 L337.91,149.74 L338.16,149.49 L338.42,149.22 L338.69,148.93 L338.97,148.67 L339.26,148.39 L339.54,148.07 L339.82,147.73 L340.11,147.38 L340.42,147.02 L340.76,146.67 L341.13,146.34 L341.55,146.05 L342.01,145.79 L342.48,145.55 L342.99,145.33 L343.53,145.12 L344.10,144.92 L344.71,144.73 L345.36,144.54 L346.06,144.35 L346.81,144.17 L347.63,143.99 L348.49,143.82 L349.39,143.66 L350.31,143.50 L351.23,143.34 L352.15,143.19 L353.04,143.05 L353.90,142.90 L354.74,142.75 L355.58,142.60 L356.42,142.46 L357.28,142.32 L358.15,142.20 L359.06,142.09 L360.01,142.00 L361.03,141.92 L362.12,141.86 L363.26,141.81 L364.41,141.77 L365.54,141.74 L366.64,141.73 L367.67,141.73 L368.60,141.74 L369.42,141.77 L370.17,141.84 L370.85,141.92 L371.48,142.01 L372.09,142.10 L372.70,142.18 L373.32,142.23 L373.96,142.26 L374.64,142.25 L375.31,142.22 L375.98,142.16 L376.65,142.09 L377.32,142.02 L377.99,141.95 L378.66,141.90 L379.33,141.87 L380.00,141.86 L380.67,141.87 L381.34,141.90 L382.01,141.93 L382.69,141.96 L383.36,141.98 L384.03,142.00 L384.70,142.00 L385.37,141.98 L386.04,141.95 L386.71,141.90 L387.38,141.85 L388.05,141.81 L388.72,141.77 L389.39,141.74 L390.06,141.74 L390.73,141.76 L391.41,141.80 L392.08,141.86 L392.75,141.93 L393.42,141.99 L394.09,142.05 L394.76,142.10 L395.43,142.13 L396.14,142.14 L396.90,142.13 L397.68,142.11 L398.45,142.09 L399.18,142.06 L399.83,142.04 L400.38,142.01 L400.80,142.00" stroke="#000" stroke-width="1.2" fill="none" stroke-linejoin="round"/>
<path d="M304.20,142.00 L304.75,142.01 L305.50,141.99 L306.39,141.97 L307.37,141.97 L308.40,141.99 L309.40,142.06 L310.35,142.18 L311.18,142.39 L311.90,142.68 L312.57,143.04 L313.20,143.45 L313.81,143.91 L314.40,144.41 L314.99,144.94 L315.59,145.49 L316.22,146.05 L316.89,146.73 L317.58,147.58 L318.30,148.52 L319.00,149.46 L319.70,150.30 L320.35,150.97 L320.95,151.37 L321.48,151.41 L321.93,151.20 L322.30,150.86 L322.62,150.35 L322.91,149.61 L323.18,148.60 L323.44,147.27 L323.73,145.56 L324.06,143.44 L324.42,140.48 L324.79,136.56 L325.18,132.06 L325.57,127.34 L325.96,122.78 L326.35,118.74 L326.71,115.62 L327.06,113.77 L327.39,113.25 L327.71,113.73 L328.02,115.00 L328.32,116.86 L328.61,119.11 L328.89,121.52 L329.16,123.91 L329.42,126.05 L329.67,128.20 L329.91,130.63 L330.15,133.24 L330.37,135.92 L330.58,138.56 L330.78,141.05 L330.97,143.28 L331.14,145.14 L331.28,146.66 L331.39,147.97 L331.48,149.09 L331.56,150.02 L331.65,150.78 L331.76,151.39 L331.91,151.86 L332.11,152.19 L332.35,152.34 L332.64,152.26 L332.95,152.00 L333.29,151.61 L333.65,151.12 L334.03,150.59 L334.41,150.06 L334.79,149.58 L335.18,149.10 L335.59,148.54 L336.02,147.94 L336.45,147.33 L336.89,146.71 L337.34,146.13 L337.78,145.59 L338.22,145.14 L338.67,144.76 L339.12,144.43 L339.58,144.15 L340.04,143.90 L340.50,143.67 L340.94,143.46 L341.36,143.25 L341.77,143.05 L342.14,142.83 L342.48,142.61 L342.80,142.40 L343.11,142.20 L343.43,142.03 L343.75,141.89 L344.08,141.79 L344.45,141.74 L344.84,141.76 L345.25,141.86 L345.68,142.01 L346.11,142.18 L346.55,142.36 L347.00,142.51 L347.44,142.62 L347.88,142.65 L348.31,142.61 L348.72,142.51 L349.12,142.36 L349.53,142.19 L349.96,142.01 L350.41,141.84 L350.89,141.70 L351.43,141.61 L352.02,141.56 L352.69,141.54 L353.40,141.55 L354.13,141.57 L354.86,141.59 L355.56,141.61 L356.21,141.62 L356.79,141.61 L357.30,141.57 L357.75,141.50 L358.16,141.42 L358.54,141.34 L358.90,141.27 L359.26,141.21 L359.62,141.19 L360.01,141.22 L360.40,141.30 L360.77,141.45 L361.12,141.63 L361.49,141.84 L361.87,142.04 L362.28,142.21 L362.73,142.33 L363.23,142.39 L363.80,142.36 L364.42,142.26 L365.09,142.11 L365.78,141.93 L366.49,141.76 L367.21,141.61 L367.91,141.51 L368.60,141.48 L369.27,141.54 L369.94,141.68 L370.61,141.86 L371.28,142.07 L371.95,142.28 L372.62,142.47 L373.29,142.60 L373.96,142.65 L374.64,142.62 L375.31,142.51 L375.98,142.34 L376.65,142.16 L377.32,141.96 L377.99,141.79 L378.66,141.67 L379.33,141.61 L380.00,141.63 L380.67,141.72 L381.34,141.84 L382.01,141.99 L382.69,142.14 L383.36,142.27 L384.03,142.36 L384.70,142.39 L385.37,142.35 L386.04,142.24 L386.71,142.10 L387.38,141.93 L388.05,141.77 L388.72,141.63 L389.39,141.52 L390.06,141.48 L390.73,141.50 L391.41,141.58 L392.08,141.70 L392.75,141.84 L393.42,141.98 L394.09,142.11 L394.76,142.21 L395.43,142.26 L396.14,142.27 L396.90,142.24 L397.68,142.18 L398.45,142.11 L399.18,142.04 L399.83,141.97 L400.38,141.91 L400.80,141.87" stroke="#e8141e" stroke-width="1.2" fill="none" stroke-linejoin="round"/>
<text x="405.4" y="103.3" font-family="Liberation Serif" font-size="11.5" text-anchor="start" font-weight="bold" font-style="normal" fill="#000" stroke="#000" stroke-width="0.299" >(f)</text>
<rect x="429.1" y="102.8" width="96.1" height="71.3" fill="none" stroke="#000" stroke-width="0.9"/>
<line x1="429.1" y1="102.80199999999999" x2="431.3" y2="102.80199999999999" stroke="#000" stroke-width="0.8" />
<text x="426.5" y="105.10199999999999" font-family="Liberation Serif" font-size="6.5" text-anchor="end" font-weight="normal" font-style="normal" fill="#000" stroke="#000" stroke-width="0.169" >45</text>
<line x1="429.1" y1="126.56799999999998" x2="431.3" y2="126.56799999999998" stroke="#000" stroke-width="0.8" />
<text x="426.5" y="128.868" font-family="Liberation Serif" font-size="6.5" text-anchor="end" font-weight="normal" font-style="normal" fill="#000" stroke="#000" stroke-width="0.169" >30</text>
<line x1="429.1" y1="150.334" x2="431.3" y2="150.334" stroke="#000" stroke-width="0.8" />
<text x="426.5" y="152.63400000000001" font-family="Liberation Serif" font-size="6.5" text-anchor="end" font-weight="normal" font-style="normal" fill="#000" stroke="#000" stroke-width="0.169" >15</text>
<line x1="429.1" y1="174.1" x2="431.3" y2="174.1" stroke="#000" stroke-width="0.8" />
<text x="426.5" y="176.4" font-family="Liberation Serif" font-size="6.5" text-anchor="end" font-weight="normal" font-style="normal" fill="#000" stroke="#000" stroke-width="0.169" >0</text>
<line x1="429.1" y1="174.1" x2="429.1" y2="171.9" stroke="#000" stroke-width="0.8" />
<text x="429.1" y="181.8" font-family="Liberation Serif" font-size="6.5" text-anchor="middle" font-weight="normal" font-style="normal" fill="#000" stroke="#000" stroke-width="0.169" >0</text>
<line x1="459.135" y1="174.1" x2="459.135" y2="171.9" stroke="#000" stroke-width="0.8" />
<text x="459.135" y="181.8" font-family="Liberation Serif" font-size="6.5" text-anchor="middle" font-weight="normal" font-style="normal" fill="#000" stroke="#000" stroke-width="0.169" >5</text>
<line x1="489.17" y1="174.1" x2="489.17" y2="171.9" stroke="#000" stroke-width="0.8" />
<text x="489.17" y="181.8" font-family="Liberation Serif" font-size="6.5" text-anchor="middle" font-weight="normal" font-style="normal" fill="#000" stroke="#000" stroke-width="0.169" >10</text>
<line x1="519.205" y1="174.1" x2="519.205" y2="171.9" stroke="#000" stroke-width="0.8" />
<text x="519.205" y="181.8" font-family="Liberation Serif" font-size="6.5" text-anchor="middle" font-weight="normal" font-style="normal" fill="#000" stroke="#000" stroke-width="0.169" >15</text>
<text x="477.4" y="188.5" font-family="Liberation Serif" font-size="6.7" text-anchor="middle" font-weight="normal" font-style="normal" fill="#000" stroke="#000" stroke-width="0.174" >Pump fluence (μJ/cm<tspan dy="-2.5" font-size="4.5">2</tspan><tspan dy="2.5">)</tspan></text>
<text x="0" y="0" font-family="Liberation Serif" font-size="6.5" text-anchor="middle" font-weight="normal" font-style="normal" fill="#000" stroke="#000" stroke-width="0.169" transform="translate(416.5,138) rotate(-90)">THz amplitude (a.u.)</text>
<line x1="433.8" y1="112" x2="446" y2="112" stroke="#000" stroke-width="1.2" />
<text x="448.7" y="114.3" font-family="Liberation Serif" font-size="6.3" text-anchor="start" font-weight="normal" font-style="normal" fill="#000" stroke="#000" stroke-width="0.164" >GSSJ (-40 V)</text>
<line x1="433.8" y1="118.5" x2="446" y2="118.5" stroke="#e8141e" stroke-width="1.2" />
<text x="448.7" y="120.8" font-family="Liberation Serif" font-size="6.3" text-anchor="start" font-weight="normal" font-style="normal" fill="#000" stroke="#000" stroke-width="0.164" >InAs</text>
<path d="M429.10,174.10 L429.70,173.39 L430.30,172.68 L430.90,171.98 L431.50,171.29 L432.10,170.60 L432.70,169.92 L433.30,169.24 L433.91,168.57 L434.51,167.90 L435.11,167.24 L435.71,166.58 L436.31,165.93 L436.91,165.29 L437.51,164.64 L438.11,164.01 L438.71,163.38 L439.31,162.75 L439.91,162.13 L440.51,161.51 L441.11,160.90 L441.71,160.30 L442.32,159.69 L442.92,159.10 L443.52,158.51 L444.12,157.92 L444.72,157.34 L445.32,156.76 L445.92,156.18 L446.52,155.61 L447.12,155.05 L447.72,154.49 L448.32,153.93 L448.92,153.38 L449.52,152.84 L450.12,152.29 L450.73,151.75 L451.33,151.22 L451.93,150.69 L452.53,150.16 L453.13,149.64 L453.73,149.13 L454.33,148.61 L454.93,148.10 L455.53,147.60 L456.13,147.10 L456.73,146.60 L457.33,146.11 L457.93,145.62 L458.53,145.13 L459.13,144.65 L459.74,144.17 L460.34,143.70 L460.94,143.23 L461.54,142.76 L462.14,142.30 L462.74,141.84 L463.34,141.38 L463.94,140.93 L464.54,140.48 L465.14,140.04 L465.74,139.59 L466.34,139.16 L466.94,138.72 L467.54,138.29 L468.15,137.86 L468.75,137.44 L469.35,137.02 L469.95,136.60 L470.55,136.19 L471.15,135.77 L471.75,135.37 L472.35,134.96 L472.95,134.56 L473.55,134.16 L474.15,133.77 L474.75,133.38 L475.35,132.99 L475.95,132.60 L476.56,132.22 L477.16,131.84 L477.76,131.46 L478.36,131.09 L478.96,130.72 L479.56,130.35 L480.16,129.98 L480.76,129.62 L481.36,129.26 L481.96,128.91 L482.56,128.55 L483.16,128.20 L483.76,127.85 L484.36,127.51 L484.97,127.17 L485.57,126.83 L486.17,126.49 L486.77,126.16 L487.37,125.82 L487.97,125.49 L488.57,125.17 L489.17,124.84 L489.77,124.52 L490.37,124.20 L490.97,123.89 L491.57,123.57 L492.17,123.26 L492.77,122.95 L493.37,122.65 L493.98,122.34 L494.58,122.04 L495.18,121.74 L495.78,121.44 L496.38,121.15 L496.98,120.86 L497.58,120.57 L498.18,120.28 L498.78,120.00 L499.38,119.71 L499.98,119.43 L500.58,119.15 L501.18,118.88 L501.78,118.60 L502.39,118.33 L502.99,118.06 L503.59,117.79 L504.19,117.53 L504.79,117.26 L505.39,117.00 L505.99,116.74 L506.59,116.48 L507.19,116.23 L507.79,115.98 L508.39,115.72 L508.99,115.48 L509.59,115.23 L510.19,114.98 L510.80,114.74 L511.40,114.50 L512.00,114.26 L512.60,114.02 L513.20,113.78 L513.80,113.55 L514.40,113.32 L515.00,113.09 L515.60,112.86 L516.20,112.63 L516.80,112.41 L517.40,112.19 L518.00,111.96 L518.60,111.74 L519.21,111.53 L519.81,111.31 L520.41,111.10 L521.01,110.88 L521.61,110.67 L522.21,110.46 L522.81,110.25 L523.41,110.05 L524.01,109.84 L524.61,109.64 L525.21,109.44" stroke="#000" stroke-width="1.2" fill="none" />
<path d="M429.10,174.10 L429.70,173.45 L430.30,172.80 L430.90,172.16 L431.50,171.52 L432.10,170.89 L432.70,170.27 L433.30,169.66 L433.91,169.05 L434.51,168.45 L435.11,167.86 L435.71,167.27 L436.31,166.68 L436.91,166.11 L437.51,165.54 L438.11,164.97 L438.71,164.42 L439.31,163.86 L439.91,163.32 L440.51,162.78 L441.11,162.24 L441.71,161.71 L442.32,161.19 L442.92,160.67 L443.52,160.16 L444.12,159.65 L444.72,159.15 L445.32,158.65 L445.92,158.16 L446.52,157.68 L447.12,157.19 L447.72,156.72 L448.32,156.25 L448.92,155.78 L449.52,155.32 L450.12,154.87 L450.73,154.41 L451.33,153.97 L451.93,153.53 L452.53,153.09 L453.13,152.66 L453.73,152.23 L454.33,151.81 L454.93,151.39 L455.53,150.97 L456.13,150.56 L456.73,150.16 L457.33,149.76 L457.93,149.36 L458.53,148.97 L459.13,148.58 L459.74,148.19 L460.34,147.81 L460.94,147.44 L461.54,147.06 L462.14,146.69 L462.74,146.33 L463.34,145.97 L463.94,145.61 L464.54,145.26 L465.14,144.91 L465.74,144.56 L466.34,144.22 L466.94,143.88 L467.54,143.55 L468.15,143.22 L468.75,142.89 L469.35,142.56 L469.95,142.24 L470.55,141.92 L471.15,141.61 L471.75,141.30 L472.35,140.99 L472.95,140.69 L473.55,140.39 L474.15,140.09 L474.75,139.79 L475.35,139.50 L475.95,139.21 L476.56,138.93 L477.16,138.65 L477.76,138.37 L478.36,138.09 L478.96,137.82 L479.56,137.55 L480.16,137.28 L480.76,137.01 L481.36,136.75 L481.96,136.49 L482.56,136.23 L483.16,135.98 L483.76,135.73 L484.36,135.48 L484.97,135.23 L485.57,134.99 L486.17,134.75 L486.77,134.51 L487.37,134.28 L487.97,134.04 L488.57,133.81 L489.17,133.58 L489.77,133.36 L490.37,133.13 L490.97,132.91 L491.57,132.69 L492.17,132.48 L492.77,132.26 L493.37,132.05 L493.98,131.84 L494.58,131.63 L495.18,131.43 L495.78,131.22 L496.38,131.02 L496.98,130.82 L497.58,130.63 L498.18,130.43 L498.78,130.24 L499.38,130.05 L499.98,129.86 L500.58,129.67 L501.18,129.49 L501.78,129.31 L502.39,129.13 L502.99,128.95 L503.59,128.77 L504.19,128.60 L504.79,128.42 L505.39,128.25 L505.99,128.08 L506.59,127.91 L507.19,127.75 L507.79,127.58 L508.39,127.42 L508.99,127.26 L509.59,127.10 L510.19,126.94 L510.80,126.79 L511.40,126.63 L512.00,126.48 L512.60,126.33 L513.20,126.18 L513.80,126.03 L514.40,125.89 L515.00,125.74 L515.60,125.60 L516.20,125.46 L516.80,125.32 L517.40,125.18 L518.00,125.04 L518.60,124.91 L519.21,124.77 L519.81,124.64 L520.41,124.51 L521.01,124.38 L521.61,124.25 L522.21,124.12 L522.81,124.00 L523.41,123.87 L524.01,123.75 L524.61,123.63 L525.21,123.51" stroke="#e8141e" stroke-width="1.2" fill="none" />
<circle cx="438.11" cy="166.18" r="1.3" fill="#000" stroke="none" stroke-width="0"/>
<circle cx="454.33" cy="149.07" r="1.3" fill="#000" stroke="none" stroke-width="0"/>
<circle cx="472.35" cy="134.49" r="1.3" fill="#000" stroke="none" stroke-width="0"/>
<circle cx="488.57" cy="124.19" r="1.3" fill="#000" stroke="none" stroke-width="0"/>
<circle cx="505.99" cy="116.27" r="1.3" fill="#000" stroke="none" stroke-width="0"/>
<circle cx="524.01" cy="110.72" r="1.3" fill="#000" stroke="none" stroke-width="0"/>
<circle cx="454.33" cy="151.13" r="1.3" fill="#e8141e" stroke="none" stroke-width="0"/>
<circle cx="472.35" cy="141.14" r="1.3" fill="#e8141e" stroke="none" stroke-width="0"/>
<circle cx="488.57" cy="134.49" r="1.3" fill="#e8141e" stroke="none" stroke-width="0"/>
<circle cx="505.99" cy="128.15" r="1.3" fill="#e8141e" stroke="none" stroke-width="0"/>
<circle cx="524.01" cy="123.40" r="1.3" fill="#e8141e" stroke="none" stroke-width="0"/>
<defs><pattern id="gph" patternUnits="userSpaceOnUse" width="6" height="2.7" patternTransform="rotate(48)">
<rect width="6" height="2.7" fill="#e3e5ed"/><rect width="6" height="0.8" fill="#4e5578"/></pattern>
<pattern id="gph2" patternUnits="userSpaceOnUse" width="6" height="2.7" patternTransform="rotate(55)">
<rect width="6" height="2.7" fill="#e2e4ec"/><rect width="6" height="0.75" fill="#5c6282"/></pattern></defs>
<text x="1.7" y="198.3" font-family="Liberation Serif" font-size="11.5" text-anchor="start" font-weight="bold" font-style="normal" fill="#000" stroke="#000" stroke-width="0.299" >(g)</text>
<text x="57.4" y="214.3" font-family="Liberation Sans" font-size="6.5" text-anchor="start" font-weight="normal" font-style="normal" fill="#111" stroke="#111" stroke-width="0.169" >Photoexcited Current</text>
<line x1="69" y1="219.2" x2="99.3" y2="219.2" stroke="#000" stroke-width="1.6" />
<path d="M103.50,219.20 L97.50,221.80 L97.50,216.60 Z" fill="#000"/>
<path d="M70,345 L70,264 C70.2,258 75,249.5 85,244 C92,240.5 100,237.6 115.5,236.6" stroke="#000" stroke-width="1.6" fill="none" />
<text x="117.8" y="239.2" font-family="Liberation Sans" font-size="7" text-anchor="start" font-weight="normal" font-style="normal" fill="#000" stroke="#000" stroke-width="0.182" >E</text>
<text x="122.4" y="241.2" font-family="Liberation Sans" font-size="4.5" text-anchor="start" font-weight="normal" font-style="normal" fill="#000" stroke="#000" stroke-width="0.117" >c</text>
<path d="M103.4,229.3 C92,230.5 78,235.5 70.3,245.8" stroke="#e81010" stroke-width="1.0" fill="none" />
<path d="M68.60,248.40 L69.23,244.60 L71.88,246.39 Z" fill="#e81010"/>
<circle cx="70.40" cy="252.40" r="1.75" fill="#dd1111" stroke="none" stroke-width="0"/>
<circle cx="75.70" cy="246.10" r="1.75" fill="#dd1111" stroke="none" stroke-width="0"/>
<circle cx="81.90" cy="241.30" r="1.75" fill="#dd1111" stroke="none" stroke-width="0"/>
<circle cx="88.80" cy="238.20" r="1.75" fill="#dd1111" stroke="none" stroke-width="0"/>
<circle cx="95.90" cy="235.70" r="1.75" fill="#dd1111" stroke="none" stroke-width="0"/>
<circle cx="103.50" cy="233.60" r="1.75" fill="#dd1111" stroke="none" stroke-width="0"/>
<line x1="70" y1="263.5" x2="91" y2="263.5" stroke="#000" stroke-width="0.8" stroke-dasharray="1.5,1" />
<line x1="79.8" y1="276" x2="79.8" y2="265.55" stroke="#000" stroke-width="0.7" />
<path d="M79.80,263.80 L81.00,266.30 L78.60,266.30 Z" fill="#000"/>
<line x1="79.8" y1="276" x2="79.8" y2="287.95" stroke="#000" stroke-width="0.7" />
<path d="M79.80,289.70 L78.60,287.20 L81.00,287.20 Z" fill="#000"/>
<text x="82" y="278.6" font-family="Liberation Sans" font-size="6.6" text-anchor="start" font-weight="normal" font-style="normal" fill="#111" stroke="#111" stroke-width="0.172" >0.45 eV</text>
<line x1="113.9" y1="262" x2="113.9" y2="240.05" stroke="#000" stroke-width="0.8" />
<path d="M113.90,238.30 L115.10,240.80 L112.70,240.80 Z" fill="#000"/>
<line x1="113.9" y1="262" x2="113.9" y2="287.95" stroke="#000" stroke-width="0.8" />
<path d="M113.90,289.70 L112.70,287.20 L115.10,287.20 Z" fill="#000"/>
<text x="115" y="266" font-family="Liberation Sans" font-size="6.6" text-anchor="start" font-weight="normal" font-style="normal" fill="#111" stroke="#111" stroke-width="0.172" >0.75 eV</text>
<line x1="70.5" y1="290" x2="117.5" y2="290" stroke="#000" stroke-width="1.2" stroke-dasharray="2.2,1.4" />
<text x="119.3" y="292.5" font-family="Liberation Sans" font-size="7" text-anchor="start" font-weight="normal" font-style="normal" fill="#000" stroke="#000" stroke-width="0.182" >E</text>
<text x="123.9" y="294.5" font-family="Liberation Sans" font-size="4.5" text-anchor="start" font-weight="normal" font-style="normal" fill="#000" stroke="#000" stroke-width="0.117" >F</text>
<path d="M69.8,342.4 C72,333 80,326 90,323 C98,320.5 106,319 115.9,318.7" stroke="#000" stroke-width="1.6" fill="none" />
<text x="119.6" y="323" font-family="Liberation Sans" font-size="7" text-anchor="start" font-weight="normal" font-style="normal" fill="#000" stroke="#000" stroke-width="0.182" >E</text>
<text x="124.2" y="325" font-family="Liberation Sans" font-size="4.5" text-anchor="start" font-weight="normal" font-style="normal" fill="#000" stroke="#000" stroke-width="0.117" >v</text>
<circle cx="73.80" cy="342.40" r="1.75" fill="#1140b0" stroke="none" stroke-width="0"/>
<circle cx="77.20" cy="336.00" r="1.75" fill="#1140b0" stroke="none" stroke-width="0"/>
<circle cx="83.30" cy="330.90" r="1.75" fill="#1140b0" stroke="none" stroke-width="0"/>
<circle cx="90.10" cy="327.20" r="1.75" fill="#1140b0" stroke="none" stroke-width="0"/>
<circle cx="96.90" cy="325.10" r="1.75" fill="#1140b0" stroke="none" stroke-width="0"/>
<circle cx="104.40" cy="322.90" r="1.75" fill="#1140b0" stroke="none" stroke-width="0"/>
<line x1="70" y1="258" x2="70" y2="345.5" stroke="#000" stroke-width="1.6" />
<rect x="50.4" y="252" width="10.6" height="93" fill="url(#gph)"/>
<text x="4.5" y="259.8" font-family="Liberation Sans" font-size="6.4" text-anchor="start" font-weight="normal" font-style="normal" fill="#111" stroke="#111" stroke-width="0.166" >THz Pulse</text>
<line x1="65.6" y1="301.1" x2="21" y2="267.9" stroke="#1aa033" stroke-width="1.8" />
<path d="M18.60,266.10 L24.96,267.63 L21.83,271.79 Z" fill="#1aa033"/>
<path d="M49.3,256.7 L30.3,274.2 L36.7,279.6 Q40.5,268 49.3,256.7 Z" fill="#1aa033"/>
<path d="M32.8,277 L31.2,284.2 L38.2,281.1 Z" fill="#1aa033"/>
<text x="3.8" y="343.7" font-family="Liberation Sans" font-size="6.6" text-anchor="start" font-weight="normal" font-style="normal" fill="#111" stroke="#111" stroke-width="0.172" >NIR Pulse</text>
<line x1="18.5" y1="358.6" x2="63" y2="313.2" stroke="#ee1111" stroke-width="1.8" />
<path d="M66.00,310.20 L63.65,316.30 L59.94,312.66 Z" fill="#ee1111"/>
<path d="M33,344.2 Q37.5,333 41.1,315.6 L43.6,327 L45,330.8 L48,329.6 Z" fill="#ee1111"/>
<text x="37.2" y="358.6" font-family="Liberation Sans" font-size="6.6" text-anchor="start" font-weight="normal" font-style="normal" fill="#111" stroke="#111" stroke-width="0.172" >Graphene</text>
<text x="93" y="357.8" font-family="Liberation Sans" font-size="6.5" text-anchor="start" font-weight="normal" font-style="normal" fill="#111" stroke="#111" stroke-width="0.169" >InP</text>
<text x="139.5" y="198.5" font-family="Liberation Serif" font-size="11.5" text-anchor="start" font-weight="bold" font-style="normal" fill="#000" stroke="#000" stroke-width="0.299" >(h)</text>
<text x="206.9" y="214" font-family="Liberation Sans" font-size="6.5" text-anchor="start" font-weight="normal" font-style="normal" fill="#111" stroke="#111" stroke-width="0.169" >Photoexcited Current</text>
<line x1="254" y1="218.6" x2="222.79999999999998" y2="218.6" stroke="#000" stroke-width="1.7" />
<path d="M218.60,218.60 L224.60,216.00 L224.60,221.20 Z" fill="#000"/>
<path d="M223.1,226.4 C226,231 229,236.5 234.3,238 C242,238 255,236 268.1,235.8" stroke="#1f5fc8" stroke-width="1.5" fill="none" />
<path d="M227.4,220.6 C233,226 240,230 245.5,231.5" stroke="#e81010" stroke-width="1" fill="none" />
<path d="M247.50,232.30 L243.66,232.61 L244.76,229.60 Z" fill="#e81010"/>
<circle cx="226.40" cy="225.80" r="1.75" fill="#dd1111" stroke="none" stroke-width="0"/>
<circle cx="232.30" cy="231.30" r="1.75" fill="#dd1111" stroke="none" stroke-width="0"/>
<circle cx="236.80" cy="235.20" r="1.75" fill="#dd1111" stroke="none" stroke-width="0"/>
<circle cx="247.00" cy="234.30" r="1.75" fill="#dd1111" stroke="none" stroke-width="0"/>
<circle cx="255.80" cy="232.90" r="1.75" fill="#dd1111" stroke="none" stroke-width="0"/>
<circle cx="267.00" cy="232.30" r="1.75" fill="#dd1111" stroke="none" stroke-width="0"/>
<path d="M223.3,262.7 C224,252 229,245 236,241.5 C245,238 256,236.5 268,236.2" stroke="#000" stroke-width="1.1" fill="none" stroke-dasharray="2.2,1.4" />
<line x1="223.3" y1="262" x2="223.3" y2="344.7" stroke="#000" stroke-width="1.5" />
<line x1="267.4" y1="262" x2="267.4" y2="238.05" stroke="#000" stroke-width="0.8" />
<path d="M267.40,236.30 L268.60,238.80 L266.20,238.80 Z" fill="#000"/>
<line x1="267.4" y1="262" x2="267.4" y2="287.95" stroke="#000" stroke-width="0.8" />
<path d="M267.40,289.70 L266.20,287.20 L268.60,287.20 Z" fill="#000"/>
<text x="243.4" y="265.7" font-family="Liberation Sans" font-size="6.6" text-anchor="start" font-weight="normal" font-style="normal" fill="#111" stroke="#111" stroke-width="0.172" >0.75 eV</text>
<text x="273.2" y="238.3" font-family="Liberation Sans" font-size="7" text-anchor="start" font-weight="normal" font-style="normal" fill="#000" stroke="#000" stroke-width="0.182" >E</text>
<text x="277.8" y="240.3" font-family="Liberation Sans" font-size="4.5" text-anchor="start" font-weight="normal" font-style="normal" fill="#000" stroke="#000" stroke-width="0.117" >c</text>
<line x1="224" y1="289.8" x2="268" y2="289.8" stroke="#000" stroke-width="1.2" stroke-dasharray="2.2,1.4" />
<text x="273.2" y="292.8" font-family="Liberation Sans" font-size="7" text-anchor="start" font-weight="normal" font-style="normal" fill="#000" stroke="#000" stroke-width="0.182" >E</text>
<text x="277.8" y="294.8" font-family="Liberation Sans" font-size="4.5" text-anchor="start" font-weight="normal" font-style="normal" fill="#000" stroke="#000" stroke-width="0.117" >F</text>
<path d="M223.2,309.2 C228,314 231,319.5 236.8,320.1 C246,320 258,318.8 269.1,318.6" stroke="#1f5fc8" stroke-width="1.5" fill="none" />
<circle cx="226.30" cy="317.60" r="1.75" fill="#1140b0" stroke="none" stroke-width="0"/>
<circle cx="231.50" cy="322.80" r="1.75" fill="#1140b0" stroke="none" stroke-width="0"/>
<circle cx="237.80" cy="324.30" r="1.75" fill="#1140b0" stroke="none" stroke-width="0"/>
<circle cx="247.20" cy="322.80" r="1.75" fill="#1140b0" stroke="none" stroke-width="0"/>
<circle cx="256.00" cy="322.40" r="1.75" fill="#1140b0" stroke="none" stroke-width="0"/>
<circle cx="266.60" cy="321.80" r="1.75" fill="#1140b0" stroke="none" stroke-width="0"/>
<path d="M224.2,337.4 C226,330 232,325 239.9,323.4 C248,321 258,320 269.1,319.7" stroke="#000" stroke-width="1.1" fill="none" stroke-dasharray="2.2,1.4" />
<text x="273.2" y="323.2" font-family="Liberation Sans" font-size="7" text-anchor="start" font-weight="normal" font-style="normal" fill="#000" stroke="#000" stroke-width="0.182" >E</text>
<text x="277.8" y="325.2" font-family="Liberation Sans" font-size="4.5" text-anchor="start" font-weight="normal" font-style="normal" fill="#000" stroke="#000" stroke-width="0.117" >v</text>
<rect x="200.5" y="252.3" width="10.2" height="92.4" fill="url(#gph2)"/>
<line x1="221.1" y1="300.9" x2="169" y2="259.3" stroke="#1aa033" stroke-width="1.8" />
<path d="M166.30,257.20 L172.61,258.91 L169.37,262.98 Z" fill="#1aa033"/>
<path d="M201.5,259.7 L187.4,272.8 L195.3,279 Q196,269 201.5,259.7 Z M173.8,286.5 L187.4,272.8 L179.5,266.5 Q179,276.5 173.8,286.5 Z" fill="#1aa033"/>
<line x1="172.9" y1="360.2" x2="219.5" y2="313.5" stroke="#ee1111" stroke-width="1.8" />
<path d="M222.10,311.30 L219.59,317.34 L215.98,313.60 Z" fill="#ee1111"/>
<path d="M188,345 Q191.5,333 193.6,319.8 L196.2,330 L197.8,333.4 L200.5,332.6 Z" fill="#ee1111"/>
<ellipse cx="213" cy="269.4" rx="9.6" ry="3.9" fill="#e31515" stroke="#1a0505" stroke-width="1.15"/>
<text x="207.6" y="271.4" font-family="Liberation Sans" font-size="5.6" text-anchor="start" font-weight="bold" font-style="normal" fill="#fff" stroke="#fff" stroke-width="0" >+</text>
<text x="216.5" y="270.9" font-family="Liberation Sans" font-size="5" text-anchor="start" font-weight="bold" font-style="normal" fill="#fff" stroke="#fff" stroke-width="0" >-</text>
<ellipse cx="213" cy="289.2" rx="9.6" ry="3.9" fill="#e31515" stroke="#1a0505" stroke-width="1.15"/>
<text x="207.6" y="291.2" font-family="Liberation Sans" font-size="5.6" text-anchor="start" font-weight="bold" font-style="normal" fill="#fff" stroke="#fff" stroke-width="0" >+</text>
<text x="216.5" y="290.7" font-family="Liberation Sans" font-size="5" text-anchor="start" font-weight="bold" font-style="normal" fill="#fff" stroke="#fff" stroke-width="0" >-</text>
<ellipse cx="213" cy="307.3" rx="9.6" ry="3.9" fill="#e31515" stroke="#1a0505" stroke-width="1.15"/>
<text x="207.6" y="309.3" font-family="Liberation Sans" font-size="5.6" text-anchor="start" font-weight="bold" font-style="normal" fill="#fff" stroke="#fff" stroke-width="0" >+</text>
<text x="216.5" y="308.8" font-family="Liberation Sans" font-size="5" text-anchor="start" font-weight="bold" font-style="normal" fill="#fff" stroke="#fff" stroke-width="0" >-</text>
<ellipse cx="213" cy="327" rx="9.6" ry="3.9" fill="#e31515" stroke="#1a0505" stroke-width="1.15"/>
<text x="207.6" y="329" font-family="Liberation Sans" font-size="5.6" text-anchor="start" font-weight="bold" font-style="normal" fill="#fff" stroke="#fff" stroke-width="0" >+</text>
<text x="216.5" y="328.5" font-family="Liberation Sans" font-size="5" text-anchor="start" font-weight="bold" font-style="normal" fill="#fff" stroke="#fff" stroke-width="0" >-</text>
<path d="M178,298.4 L185.5,298.4 L185.5,295.6 L191.7,300.7 L185.5,305.8 L185.5,303 L178,303 Z" fill="#fff" stroke="#c01818" stroke-width="0.9"/>
<line x1="156" y1="273.2" x2="165.8" y2="272.7" stroke="#1a2a50" stroke-width="0.8" />
<circle cx="156.00" cy="273.20" r="3.2" fill="#fff" stroke="#101a36" stroke-width="1.2"/>
<circle cx="156.00" cy="273.20" r="1.7" fill="#2a6ad8" stroke="none" stroke-width="0"/>
<circle cx="165.80" cy="272.70" r="3.2" fill="#fff" stroke="#101a36" stroke-width="1.2"/>
<circle cx="165.80" cy="272.70" r="1.7" fill="#2a6ad8" stroke="none" stroke-width="0"/>
<line x1="149.9" y1="283.8" x2="159.3" y2="288.5" stroke="#1a2a50" stroke-width="0.8" />
<circle cx="149.90" cy="283.80" r="3.2" fill="#fff" stroke="#101a36" stroke-width="1.2"/>
<circle cx="149.90" cy="283.80" r="1.7" fill="#2a6ad8" stroke="none" stroke-width="0"/>
<circle cx="159.30" cy="288.50" r="3.2" fill="#fff" stroke="#101a36" stroke-width="1.2"/>
<circle cx="159.30" cy="288.50" r="1.7" fill="#2a6ad8" stroke="none" stroke-width="0"/>
<line x1="164" y1="300.2" x2="167" y2="308.9" stroke="#1a2a50" stroke-width="0.8" />
<circle cx="164.00" cy="300.20" r="3.2" fill="#fff" stroke="#101a36" stroke-width="1.2"/>
<circle cx="164.00" cy="300.20" r="1.7" fill="#2a6ad8" stroke="none" stroke-width="0"/>
<circle cx="167.00" cy="308.90" r="3.2" fill="#fff" stroke="#101a36" stroke-width="1.2"/>
<circle cx="167.00" cy="308.90" r="1.7" fill="#2a6ad8" stroke="none" stroke-width="0"/>
<line x1="150.6" y1="315" x2="160.7" y2="316.7" stroke="#1a2a50" stroke-width="0.8" />
<circle cx="150.60" cy="315.00" r="3.2" fill="#fff" stroke="#101a36" stroke-width="1.2"/>
<circle cx="150.60" cy="315.00" r="1.7" fill="#2a6ad8" stroke="none" stroke-width="0"/>
<circle cx="160.70" cy="316.70" r="3.2" fill="#fff" stroke="#101a36" stroke-width="1.2"/>
<circle cx="160.70" cy="316.70" r="1.7" fill="#2a6ad8" stroke="none" stroke-width="0"/>
<line x1="173.4" y1="322.5" x2="169.4" y2="332.4" stroke="#1a2a50" stroke-width="0.8" />
<circle cx="173.40" cy="322.50" r="3.2" fill="#fff" stroke="#101a36" stroke-width="1.2"/>
<circle cx="173.40" cy="322.50" r="1.7" fill="#2a6ad8" stroke="none" stroke-width="0"/>
<circle cx="169.40" cy="332.40" r="3.2" fill="#fff" stroke="#101a36" stroke-width="1.2"/>
<circle cx="169.40" cy="332.40" r="1.7" fill="#2a6ad8" stroke="none" stroke-width="0"/>
<text x="147.9" y="345.5" font-family="Liberation Sans" font-size="6.5" text-anchor="start" font-weight="normal" font-style="normal" fill="#111" stroke="#111" stroke-width="0.169" >O<tspan font-size="4.5" dy="1.8">2</tspan><tspan dy="-1.8"> Molecule</tspan></text>
<text x="281.3" y="198.5" font-family="Liberation Serif" font-size="11.5" text-anchor="start" font-weight="bold" font-style="normal" fill="#000" stroke="#000" stroke-width="0.299" >(i)</text>
<rect x="311" y="195.22" width="77.18" height="170.90" fill="none" stroke="#666" stroke-width="0.7"/>
<line x1="311" y1="366.114" x2="312.8" y2="366.114" stroke="#000" stroke-width="0.6" />
<text x="309.6" y="368.31399999999996" font-family="Liberation Sans" font-size="6.3" text-anchor="end" font-weight="normal" font-style="normal" fill="#111" stroke="#111" stroke-width="0.164" >-2</text>
<line x1="311" y1="341.7" x2="312.8" y2="341.7" stroke="#000" stroke-width="0.6" />
<text x="309.6" y="343.9" font-family="Liberation Sans" font-size="6.3" text-anchor="end" font-weight="normal" font-style="normal" fill="#111" stroke="#111" stroke-width="0.164" >0</text>
<line x1="311" y1="317.286" x2="312.8" y2="317.286" stroke="#000" stroke-width="0.6" />
<text x="309.6" y="319.486" font-family="Liberation Sans" font-size="6.3" text-anchor="end" font-weight="normal" font-style="normal" fill="#111" stroke="#111" stroke-width="0.164" >2</text>
<line x1="311" y1="292.87199999999996" x2="312.8" y2="292.87199999999996" stroke="#000" stroke-width="0.6" />
<text x="309.6" y="295.07199999999995" font-family="Liberation Sans" font-size="6.3" text-anchor="end" font-weight="normal" font-style="normal" fill="#111" stroke="#111" stroke-width="0.164" >4</text>
<line x1="311" y1="268.45799999999997" x2="312.8" y2="268.45799999999997" stroke="#000" stroke-width="0.6" />
<text x="309.6" y="270.65799999999996" font-family="Liberation Sans" font-size="6.3" text-anchor="end" font-weight="normal" font-style="normal" fill="#111" stroke="#111" stroke-width="0.164" >6</text>
<line x1="311" y1="244.04399999999998" x2="312.8" y2="244.04399999999998" stroke="#000" stroke-width="0.6" />
<text x="309.6" y="246.24399999999997" font-family="Liberation Sans" font-size="6.3" text-anchor="end" font-weight="normal" font-style="normal" fill="#111" stroke="#111" stroke-width="0.164" >8</text>
<line x1="311" y1="219.63" x2="312.8" y2="219.63" stroke="#000" stroke-width="0.6" />
<text x="309.6" y="221.82999999999998" font-family="Liberation Sans" font-size="6.3" text-anchor="end" font-weight="normal" font-style="normal" fill="#111" stroke="#111" stroke-width="0.164" >10</text>
<line x1="311" y1="195.21599999999998" x2="312.8" y2="195.21599999999998" stroke="#000" stroke-width="0.6" />
<text x="309.6" y="197.41599999999997" font-family="Liberation Sans" font-size="6.3" text-anchor="end" font-weight="normal" font-style="normal" fill="#111" stroke="#111" stroke-width="0.164" >12</text>
<line x1="311.0" y1="366.114" x2="311.0" y2="364.31399999999996" stroke="#000" stroke-width="0.6" />
<text x="311.0" y="372.4" font-family="Liberation Sans" font-size="6.3" text-anchor="middle" font-weight="normal" font-style="normal" fill="#111" stroke="#111" stroke-width="0.164" >0</text>
<line x1="328.15" y1="366.114" x2="328.15" y2="364.31399999999996" stroke="#000" stroke-width="0.6" />
<text x="328.15" y="372.4" font-family="Liberation Sans" font-size="6.3" text-anchor="middle" font-weight="normal" font-style="normal" fill="#111" stroke="#111" stroke-width="0.164" >1</text>
<line x1="345.3" y1="366.114" x2="345.3" y2="364.31399999999996" stroke="#000" stroke-width="0.6" />
<text x="345.3" y="372.4" font-family="Liberation Sans" font-size="6.3" text-anchor="middle" font-weight="normal" font-style="normal" fill="#111" stroke="#111" stroke-width="0.164" >2</text>
<line x1="362.45" y1="366.114" x2="362.45" y2="364.31399999999996" stroke="#000" stroke-width="0.6" />
<text x="362.45" y="372.4" font-family="Liberation Sans" font-size="6.3" text-anchor="middle" font-weight="normal" font-style="normal" fill="#111" stroke="#111" stroke-width="0.164" >3</text>
<line x1="379.6" y1="366.114" x2="379.6" y2="364.31399999999996" stroke="#000" stroke-width="0.6" />
<text x="379.6" y="372.4" font-family="Liberation Sans" font-size="6.3" text-anchor="middle" font-weight="normal" font-style="normal" fill="#111" stroke="#111" stroke-width="0.164" >4</text>
<text x="349.6" y="379.6" font-family="Liberation Sans" font-size="6.3" text-anchor="middle" font-weight="normal" font-style="normal" fill="#111" stroke="#111" stroke-width="0.164" >Time Delay (ps)</text>
<text x="0" y="0" font-family="Liberation Sans" font-size="6.5" text-anchor="middle" font-weight="normal" font-style="normal" fill="#111" stroke="#111" stroke-width="0.169" transform="translate(302.6,282.4) rotate(-90)">Amplitude (a.u.)</text>
<text x="315" y="205" font-family="Liberation Sans" font-size="6.5" text-anchor="start" font-weight="normal" font-style="normal" fill="#111" stroke="#111" stroke-width="0.169" >Air</text>
<path d="M311.00,221.68 L311.66,221.39 L312.54,221.62 L313.59,221.94 L314.75,222.16 L315.98,221.89 L317.23,222.05 L318.44,222.24 L319.57,221.84 L320.66,221.69 L321.76,221.53 L322.87,221.95 L323.97,221.93 L325.06,221.98 L326.13,222.48 L327.16,222.13 L328.15,222.02 L329.11,221.33 L330.07,221.65 L331.00,221.92 L331.90,221.62 L332.76,221.76 L333.58,221.56 L334.33,221.77 L335.01,221.59 L335.60,221.12 L336.10,220.84 L336.52,220.70 L336.91,220.82 L337.27,220.21 L337.63,219.82 L338.01,219.21 L338.44,218.83 L338.92,218.09 L339.41,217.71 L339.93,217.08 L340.44,216.28 L340.96,216.12 L341.46,215.60 L341.94,215.23 L342.38,214.27 L342.80,214.52 L343.20,214.57 L343.58,214.81 L343.95,215.43 L344.30,216.37 L344.64,216.31 L344.98,216.90 L345.30,217.01 L345.61,217.89 L345.89,218.36 L346.16,218.35 L346.41,218.55 L346.67,219.68 L346.94,220.38 L347.22,220.36 L347.53,220.02 L347.86,219.80 L348.20,219.36 L348.56,219.18 L348.92,218.23 L349.30,217.20 L349.68,216.76 L350.06,216.47 L350.44,215.79 L350.83,214.56 L351.23,214.15 L351.63,212.89 L352.03,212.03 L352.44,210.93 L352.86,210.14 L353.28,209.57 L353.70,208.97 L354.13,209.35 L354.55,209.76 L354.97,211.00 L355.40,212.38 L355.84,213.47 L356.30,215.65 L356.79,216.48 L357.31,217.35 L357.87,218.77 L358.48,219.64 L359.13,221.07 L359.79,223.01 L360.45,223.88 L361.10,225.04 L361.71,225.85 L362.28,226.36 L362.79,226.25 L363.25,226.50 L363.68,226.57 L364.10,226.34 L364.51,226.75 L364.94,225.89 L365.39,226.10 L365.88,225.73 L366.41,226.05 L366.98,226.16 L367.57,226.05 L368.17,225.29 L368.78,225.26 L369.38,225.62 L369.96,225.66 L370.51,225.88 L371.03,225.57 L371.53,225.50 L372.02,224.98 L372.49,225.24 L372.97,224.95 L373.45,224.84 L373.94,224.60 L374.45,223.90 L374.98,223.51 L375.52,222.92 L376.06,222.18 L376.61,221.57 L377.17,221.81 L377.74,221.19 L378.32,221.48 L378.91,221.11 L379.53,220.44 L380.18,220.95 L380.84,221.48 L381.51,221.81 L382.17,222.23 L382.83,222.58 L383.46,223.07 L384.06,222.71 L384.65,222.44 L385.26,222.45 L385.86,222.07 L386.44,221.55 L386.98,220.96 L387.46,220.68 L387.86,220.32 L388.18,220.37" stroke="#8c8c22" stroke-width="1.1" fill="none" stroke-linejoin="round"/>
<path d="M311.00,244.18 L311.66,244.78 L312.54,244.79 L313.59,244.91 L314.75,244.79 L315.98,245.45 L317.23,245.49 L318.44,245.62 L319.57,245.77 L320.66,245.74 L321.76,245.58 L322.87,245.37 L323.97,245.41 L325.06,244.96 L326.13,245.00 L327.16,245.79 L328.15,244.83 L329.11,244.85 L330.07,245.01 L331.00,244.83 L331.90,244.78 L332.76,244.82 L333.58,245.10 L334.33,244.86 L335.01,245.16 L335.60,244.24 L336.10,244.42 L336.52,243.99 L336.91,243.48 L337.27,242.94 L337.63,242.57 L338.01,241.94 L338.44,242.65 L338.92,241.70 L339.41,240.89 L339.93,240.23 L340.44,238.98 L340.96,238.84 L341.46,238.30 L341.94,238.51 L342.38,237.90 L342.80,238.30 L343.20,238.68 L343.58,237.90 L343.95,238.27 L344.30,238.95 L344.64,239.48 L344.98,240.45 L345.30,240.97 L345.61,240.96 L345.89,241.98 L346.16,242.00 L346.41,242.84 L346.67,242.84 L346.94,243.31 L347.22,242.66 L347.53,242.44 L347.86,242.58 L348.20,242.76 L348.56,242.15 L348.92,241.23 L349.30,240.66 L349.68,239.59 L350.06,238.47 L350.44,237.92 L350.83,237.35 L351.23,236.15 L351.63,235.35 L352.03,234.13 L352.44,233.51 L352.86,232.37 L353.28,232.34 L353.70,232.77 L354.13,233.06 L354.55,234.03 L354.97,235.31 L355.40,236.45 L355.84,237.51 L356.30,239.68 L356.79,240.77 L357.31,241.89 L357.87,243.02 L358.48,243.98 L359.13,245.79 L359.79,246.72 L360.45,248.03 L361.10,249.05 L361.71,250.01 L362.28,250.72 L362.79,251.17 L363.25,251.03 L363.68,250.29 L364.10,250.07 L364.51,249.83 L364.94,249.62 L365.39,249.71 L365.88,249.37 L366.41,248.72 L366.98,249.36 L367.57,248.96 L368.17,248.63 L368.78,248.63 L369.38,248.40 L369.96,248.02 L370.51,247.49 L371.03,247.44 L371.53,247.24 L372.02,247.48 L372.49,247.37 L372.97,247.44 L373.45,247.33 L373.94,247.40 L374.45,246.94 L374.98,246.27 L375.52,246.20 L376.06,245.78 L376.61,245.23 L377.17,244.93 L377.74,244.35 L378.32,244.19 L378.91,244.55 L379.53,244.81 L380.18,244.58 L380.84,244.72 L381.51,244.87 L382.17,245.40 L382.83,245.84 L383.46,246.67 L384.06,246.15 L384.65,246.48 L385.26,245.87 L385.86,246.05 L386.44,245.80 L386.98,245.23 L387.46,244.97 L387.86,244.81 L388.18,244.19" stroke="#8857c8" stroke-width="1.1" fill="none" stroke-linejoin="round"/>
<path d="M311.00,268.92 L311.66,268.56 L312.54,269.07 L313.59,268.74 L314.75,268.98 L315.98,269.11 L317.23,268.52 L318.44,268.75 L319.57,268.92 L320.66,268.75 L321.76,268.51 L322.87,268.71 L323.97,268.59 L325.06,268.97 L326.13,268.96 L327.16,268.95 L328.15,269.22 L329.11,269.43 L330.07,269.62 L331.00,269.34 L331.90,269.22 L332.76,269.22 L333.58,269.09 L334.33,269.41 L335.01,269.08 L335.60,268.67 L336.10,268.15 L336.52,268.19 L336.91,267.87 L337.27,267.99 L337.63,267.37 L338.01,267.36 L338.44,266.91 L338.92,265.66 L339.41,265.72 L339.93,264.51 L340.44,263.75 L340.96,263.30 L341.46,262.65 L341.94,262.20 L342.38,261.81 L342.80,262.10 L343.20,262.53 L343.58,262.95 L343.95,263.51 L344.30,263.74 L344.64,264.32 L344.98,264.26 L345.30,265.29 L345.61,265.79 L345.89,266.31 L346.16,267.21 L346.41,266.71 L346.67,267.98 L346.94,268.10 L347.22,268.24 L347.53,267.53 L347.86,268.02 L348.20,266.97 L348.56,266.58 L348.92,265.77 L349.30,265.06 L349.68,263.87 L350.06,263.42 L350.44,262.54 L350.83,261.56 L351.23,260.10 L351.63,260.15 L352.03,258.53 L352.44,257.53 L352.86,257.23 L353.28,256.78 L353.70,256.94 L354.13,256.74 L354.55,257.59 L354.97,258.74 L355.40,259.97 L355.84,261.25 L356.30,262.54 L356.79,263.99 L357.31,264.32 L357.87,266.25 L358.48,268.39 L359.13,269.05 L359.79,270.01 L360.45,270.90 L361.10,272.00 L361.71,272.89 L362.28,273.41 L362.79,273.55 L363.25,274.03 L363.68,274.17 L364.10,273.42 L364.51,273.35 L364.94,273.67 L365.39,272.76 L365.88,272.77 L366.41,273.22 L366.98,273.63 L367.57,273.38 L368.17,273.60 L368.78,273.76 L369.38,273.88 L369.96,273.66 L370.51,272.99 L371.03,273.05 L371.53,273.30 L372.02,272.68 L372.49,272.45 L372.97,271.98 L373.45,271.51 L373.94,271.57 L374.45,271.46 L374.98,271.20 L375.52,271.19 L376.06,270.41 L376.61,269.61 L377.17,269.39 L377.74,269.27 L378.32,269.13 L378.91,269.21 L379.53,269.32 L380.18,269.38 L380.84,269.69 L381.51,269.88 L382.17,270.46 L382.83,270.27 L383.46,270.32 L384.06,270.69 L384.65,271.14 L385.26,270.56 L385.86,269.81 L386.44,269.87 L386.98,269.70 L387.46,269.54 L387.86,269.01 L388.18,269.20" stroke="#2a56b8" stroke-width="1.1" fill="none" stroke-linejoin="round"/>
<path d="M311.00,293.23 L311.66,293.07 L312.54,293.25 L313.59,293.06 L314.75,292.77 L315.98,292.77 L317.23,292.40 L318.44,292.96 L319.57,292.95 L320.66,293.21 L321.76,293.39 L322.87,293.34 L323.97,293.22 L325.06,293.14 L326.13,293.09 L327.16,292.55 L328.15,292.70 L329.11,293.53 L330.07,293.39 L331.00,293.57 L331.90,293.61 L332.76,293.05 L333.58,293.21 L334.33,293.77 L335.01,293.30 L335.60,293.18 L336.11,293.32 L336.55,293.22 L336.94,292.99 L337.30,292.58 L337.66,292.39 L338.03,292.01 L338.44,291.14 L338.87,291.32 L339.32,291.15 L339.76,290.65 L340.21,289.74 L340.65,289.64 L341.07,288.79 L341.48,289.14 L341.87,289.26 L342.23,289.15 L342.58,289.53 L342.91,289.87 L343.22,289.96 L343.53,290.17 L343.83,290.70 L344.14,291.29 L344.44,291.25 L344.74,291.72 L345.03,292.43 L345.30,292.60 L345.58,293.56 L345.86,293.89 L346.16,293.99 L346.49,294.22 L346.84,294.34 L347.24,293.82 L347.66,293.45 L348.11,292.84 L348.57,292.18 L349.04,290.64 L349.52,289.93 L349.99,288.58 L350.44,287.72 L350.89,286.92 L351.33,285.52 L351.77,284.23 L352.21,282.98 L352.66,282.29 L353.11,281.16 L353.57,280.22 L354.05,280.05 L354.53,280.30 L355.02,280.95 L355.51,282.40 L356.01,283.52 L356.52,286.01 L357.05,287.69 L357.60,289.94 L358.16,290.59 L358.76,291.69 L359.38,292.42 L360.02,294.05 L360.67,295.96 L361.33,296.44 L362.00,297.92 L362.66,298.95 L363.31,299.31 L363.94,299.27 L364.57,299.53 L365.20,299.30 L365.83,299.63 L366.46,298.49 L367.11,298.28 L367.77,297.95 L368.45,297.53 L369.17,297.34 L369.93,297.08 L370.71,297.12 L371.50,296.73 L372.28,296.19 L373.04,295.58 L373.77,295.47 L374.45,295.22 L375.08,294.86 L375.64,294.44 L376.17,294.18 L376.68,294.03 L377.20,293.91 L377.73,293.25 L378.29,293.11 L378.91,293.12 L379.61,292.13 L380.37,292.55 L381.17,292.91 L381.99,293.44 L382.80,294.19 L383.57,293.99 L384.29,294.31 L384.92,294.38 L385.48,294.02 L386.00,293.71 L386.48,293.64 L386.92,293.52 L387.31,292.67 L387.65,292.59 L387.94,292.95 L388.18,292.54" stroke="#33b833" stroke-width="1.1" fill="none" stroke-linejoin="round"/>
<path d="M311.00,318.13 L311.66,318.28 L312.54,317.78 L313.59,318.40 L314.75,318.04 L315.98,318.48 L317.23,317.66 L318.44,317.53 L319.57,317.11 L320.66,317.50 L321.76,317.45 L322.87,317.67 L323.97,317.95 L325.06,317.86 L326.13,318.26 L327.16,318.20 L328.15,317.84 L329.10,317.85 L330.03,318.01 L330.92,317.28 L331.79,317.56 L332.64,317.86 L333.46,317.74 L334.25,317.81 L335.01,317.72 L335.75,317.50 L336.46,316.45 L337.14,316.32 L337.80,315.99 L338.43,315.50 L339.03,314.72 L339.61,314.96 L340.15,315.24 L340.67,314.56 L341.15,315.57 L341.60,315.93 L342.02,316.01 L342.42,315.78 L342.82,316.90 L343.20,318.14 L343.58,318.04 L343.95,318.69 L344.29,319.44 L344.60,320.02 L344.91,320.80 L345.23,321.49 L345.56,322.22 L345.93,322.05 L346.33,321.65 L346.78,321.41 L347.27,320.81 L347.79,319.41 L348.33,318.01 L348.88,316.96 L349.42,315.48 L349.95,313.56 L350.44,312.33 L350.92,311.05 L351.37,309.32 L351.81,307.63 L352.25,305.95 L352.68,305.01 L353.12,302.93 L353.58,302.15 L354.05,302.20 L354.54,302.12 L355.04,302.95 L355.54,304.27 L356.06,305.52 L356.58,306.69 L357.11,308.68 L357.64,310.15 L358.16,311.35 L358.67,313.60 L359.15,315.41 L359.61,316.75 L360.09,318.96 L360.60,320.33 L361.14,321.12 L361.76,322.03 L362.45,322.87 L363.26,324.10 L364.18,323.37 L365.18,323.41 L366.21,323.17 L367.25,322.92 L368.25,323.26 L369.18,323.18 L370.00,322.97 L370.70,321.80 L371.33,321.89 L371.89,321.57 L372.42,321.24 L372.92,320.64 L373.41,320.19 L373.92,319.86 L374.45,320.02 L375.00,320.50 L375.54,319.52 L376.07,318.80 L376.60,317.97 L377.14,317.81 L377.70,317.79 L378.29,317.41 L378.91,317.85 L379.59,318.05 L380.33,318.35 L381.11,318.35 L381.89,318.04 L382.67,318.50 L383.42,318.77 L384.12,319.26 L384.75,319.46 L385.31,319.63 L385.85,319.48 L386.36,319.84 L386.82,319.41 L387.25,319.00 L387.61,317.97 L387.93,317.37 L388.18,316.87" stroke="#e02424" stroke-width="1.1" fill="none" stroke-linejoin="round"/>
<path d="M311.00,341.55 L311.66,342.15 L312.54,342.11 L313.59,341.81 L314.75,341.21 L315.98,341.34 L317.23,341.90 L318.44,341.57 L319.57,341.88 L320.66,341.31 L321.76,341.52 L322.87,341.04 L323.97,341.41 L325.06,341.91 L326.13,342.31 L327.16,342.19 L328.15,341.88 L329.12,341.48 L330.10,341.53 L331.06,341.84 L331.99,341.58 L332.86,342.01 L333.67,341.60 L334.39,341.76 L335.01,341.12 L335.48,340.92 L335.82,340.94 L336.05,341.31 L336.22,340.96 L336.37,340.81 L336.53,341.03 L336.75,341.21 L337.07,340.82 L337.47,341.25 L337.91,341.33 L338.38,341.23 L338.88,342.24 L339.40,341.98 L339.93,342.36 L340.47,343.39 L341.01,344.40 L341.56,345.64 L342.14,346.48 L342.73,348.87 L343.33,349.83 L343.93,351.20 L344.52,352.58 L345.09,353.30 L345.64,353.29 L346.17,352.51 L346.67,350.81 L347.15,349.36 L347.63,346.81 L348.10,344.32 L348.58,342.24 L349.07,339.84 L349.59,338.08 L350.13,335.97 L350.70,333.49 L351.29,330.55 L351.88,328.51 L352.46,326.52 L353.03,324.71 L353.56,323.42 L354.05,323.00 L354.49,322.23 L354.89,323.23 L355.27,324.49 L355.62,326.04 L355.96,327.29 L356.29,328.08 L356.62,329.20 L356.96,330.94 L357.29,332.55 L357.60,334.13 L357.90,335.89 L358.19,336.88 L358.50,338.24 L358.82,338.80 L359.16,340.29 L359.53,341.64 L359.94,342.88 L360.37,343.76 L360.82,343.69 L361.29,343.94 L361.78,344.69 L362.28,345.35 L362.79,345.27 L363.31,345.59 L363.84,345.72 L364.40,346.00 L364.97,346.48 L365.56,347.10 L366.15,346.89 L366.75,346.82 L367.35,346.74 L367.94,346.41 L368.53,346.14 L369.14,346.26 L369.76,345.79 L370.37,346.19 L370.98,345.30 L371.58,344.88 L372.17,344.17 L372.74,343.69 L373.29,343.91 L373.83,343.60 L374.36,342.91 L374.87,342.93 L375.38,342.64 L375.88,342.61 L376.37,342.18 L376.86,342.05 L377.33,342.39 L377.80,342.84 L378.27,343.43 L378.72,342.90 L379.17,343.17 L379.61,343.50 L380.04,343.70 L380.46,343.98 L380.86,343.69 L381.23,343.66 L381.58,344.62 L381.94,344.49 L382.30,344.42 L382.68,344.53 L383.09,344.41 L383.54,343.77 L384.08,343.69 L384.70,343.13 L385.37,342.63 L386.05,342.90 L386.71,341.76 L387.31,341.45 L387.81,341.30 L388.18,340.80" stroke="#111111" stroke-width="1.1" fill="none" stroke-linejoin="round"/>
<text x="313.2" y="218" font-family="Liberation Sans" font-size="6.4" text-anchor="start" font-weight="normal" font-style="normal" fill="#111" stroke="#111" stroke-width="0.166" >10 min</text>
<text x="313.2" y="243.3" font-family="Liberation Sans" font-size="6.4" text-anchor="start" font-weight="normal" font-style="normal" fill="#111" stroke="#111" stroke-width="0.166" >8 min</text>
<text x="313.2" y="266.8" font-family="Liberation Sans" font-size="6.4" text-anchor="start" font-weight="normal" font-style="normal" fill="#111" stroke="#111" stroke-width="0.166" >6 min</text>
<text x="313.2" y="291" font-family="Liberation Sans" font-size="6.4" text-anchor="start" font-weight="normal" font-style="normal" fill="#111" stroke="#111" stroke-width="0.166" >4 min</text>
<text x="313.2" y="316" font-family="Liberation Sans" font-size="6.4" text-anchor="start" font-weight="normal" font-style="normal" fill="#111" stroke="#111" stroke-width="0.166" >2 min</text>
<text x="313.2" y="339.4" font-family="Liberation Sans" font-size="6.4" text-anchor="start" font-weight="normal" font-style="normal" fill="#111" stroke="#111" stroke-width="0.166" >0 min</text>
<text x="405.7" y="198" font-family="Liberation Serif" font-size="11.5" text-anchor="start" font-weight="bold" font-style="normal" fill="#000" stroke="#000" stroke-width="0.299" >(j)</text>
<rect x="427.8" y="199.1" width="98.4" height="70.50000000000003" fill="none" stroke="#666" stroke-width="0.7"/>
<line x1="427.8" y1="269.6" x2="429.6" y2="269.6" stroke="#000" stroke-width="0.6" />
<text x="426.2" y="272.0" font-family="Liberation Sans" font-size="6.8" text-anchor="end" font-weight="normal" font-style="normal" fill="#111" stroke="#111" stroke-width="0.177" >-2</text>
<line x1="427.8" y1="246.10000000000002" x2="429.6" y2="246.10000000000002" stroke="#000" stroke-width="0.6" />
<text x="426.2" y="248.50000000000003" font-family="Liberation Sans" font-size="6.8" text-anchor="end" font-weight="normal" font-style="normal" fill="#111" stroke="#111" stroke-width="0.177" >0</text>
<line x1="427.8" y1="222.6" x2="429.6" y2="222.6" stroke="#000" stroke-width="0.6" />
<text x="426.2" y="225.0" font-family="Liberation Sans" font-size="6.8" text-anchor="end" font-weight="normal" font-style="normal" fill="#111" stroke="#111" stroke-width="0.177" >2</text>
<line x1="427.8" y1="199.1" x2="429.6" y2="199.1" stroke="#000" stroke-width="0.6" />
<text x="426.2" y="201.5" font-family="Liberation Sans" font-size="6.8" text-anchor="end" font-weight="normal" font-style="normal" fill="#111" stroke="#111" stroke-width="0.177" >4</text>
<line x1="427.8" y1="269.6" x2="427.8" y2="267.8" stroke="#000" stroke-width="0.6" />
<text x="427.8" y="277.8" font-family="Liberation Sans" font-size="6.8" text-anchor="middle" font-weight="normal" font-style="normal" fill="#111" stroke="#111" stroke-width="0.177" >0</text>
<line x1="449.52" y1="269.6" x2="449.52" y2="267.8" stroke="#000" stroke-width="0.6" />
<text x="449.52" y="277.8" font-family="Liberation Sans" font-size="6.8" text-anchor="middle" font-weight="normal" font-style="normal" fill="#111" stroke="#111" stroke-width="0.177" >1</text>
<line x1="471.24" y1="269.6" x2="471.24" y2="267.8" stroke="#000" stroke-width="0.6" />
<text x="471.24" y="277.8" font-family="Liberation Sans" font-size="6.8" text-anchor="middle" font-weight="normal" font-style="normal" fill="#111" stroke="#111" stroke-width="0.177" >2</text>
<line x1="492.96000000000004" y1="269.6" x2="492.96000000000004" y2="267.8" stroke="#000" stroke-width="0.6" />
<text x="492.96000000000004" y="277.8" font-family="Liberation Sans" font-size="6.8" text-anchor="middle" font-weight="normal" font-style="normal" fill="#111" stroke="#111" stroke-width="0.177" >3</text>
<line x1="514.6800000000001" y1="269.6" x2="514.6800000000001" y2="267.8" stroke="#000" stroke-width="0.6" />
<text x="514.6800000000001" y="277.8" font-family="Liberation Sans" font-size="6.8" text-anchor="middle" font-weight="normal" font-style="normal" fill="#111" stroke="#111" stroke-width="0.177" >4</text>
<text x="476.6" y="284.90000000000003" font-family="Liberation Sans" font-size="6.6" text-anchor="middle" font-weight="normal" font-style="normal" fill="#111" stroke="#111" stroke-width="0.172" >Time Delay (ps)</text>
<text x="0" y="0" font-family="Liberation Sans" font-size="7.1" text-anchor="middle" font-weight="normal" font-style="normal" fill="#111" stroke="#111" stroke-width="0.185" transform="translate(421.9,234.4) rotate(-90)">Amplitude (a.u.)</text>
<text x="434.3" y="212" font-family="Liberation Sans" font-size="8.6" text-anchor="start" font-weight="normal" font-style="normal" fill="#111" stroke="#111" stroke-width="0.224" >Bare InP</text>
<line x1="489.2" y1="203.6" x2="503.5" y2="203.6" stroke="#111111" stroke-width="1.8" />
<text x="505.3" y="205.79999999999998" font-family="Liberation Sans" font-size="6.4" text-anchor="start" font-weight="normal" font-style="normal" fill="#111" stroke="#111" stroke-width="0.166" >0 min</text>
<line x1="489.2" y1="210.4" x2="503.5" y2="210.4" stroke="#e02424" stroke-width="1.8" />
<text x="505.3" y="212.6" font-family="Liberation Sans" font-size="6.4" text-anchor="start" font-weight="normal" font-style="normal" fill="#111" stroke="#111" stroke-width="0.166" >2 min</text>
<line x1="489.2" y1="216.9" x2="503.5" y2="216.9" stroke="#33b833" stroke-width="1.8" />
<text x="505.3" y="219.1" font-family="Liberation Sans" font-size="6.4" text-anchor="start" font-weight="normal" font-style="normal" fill="#111" stroke="#111" stroke-width="0.166" >4 min</text>
<line x1="489.2" y1="223.9" x2="503.5" y2="223.9" stroke="#2a56b8" stroke-width="1.8" />
<text x="505.3" y="226.1" font-family="Liberation Sans" font-size="6.4" text-anchor="start" font-weight="normal" font-style="normal" fill="#111" stroke="#111" stroke-width="0.166" >6 min</text>
<line x1="489.2" y1="231" x2="503.5" y2="231" stroke="#8857c8" stroke-width="1.8" />
<text x="505.3" y="233.2" font-family="Liberation Sans" font-size="6.4" text-anchor="start" font-weight="normal" font-style="normal" fill="#111" stroke="#111" stroke-width="0.166" >8 min</text>
<line x1="489.2" y1="238.3" x2="503.5" y2="238.3" stroke="#8c8c22" stroke-width="1.8" />
<text x="505.3" y="240.5" font-family="Liberation Sans" font-size="6.4" text-anchor="start" font-weight="normal" font-style="normal" fill="#111" stroke="#111" stroke-width="0.166" >10 min</text>
<path d="M427.80,248.86 L428.63,248.84 L429.75,249.57 L431.10,249.44 L432.58,248.95 L434.11,249.83 L435.62,250.33 L437.02,250.54 L438.23,250.41 L439.27,249.99 L440.22,250.52 L441.12,250.05 L441.96,249.57 L442.77,249.68 L443.57,248.93 L444.36,249.30 L445.18,249.53 L445.99,249.62 L446.79,249.89 L447.58,250.31 L448.35,250.70 L449.13,251.70 L449.90,252.07 L450.68,252.20 L451.47,252.07 L452.30,250.83 L453.15,250.71 L454.03,249.72 L454.90,250.32 L455.74,249.48 L456.56,249.79 L457.31,249.10 L457.99,248.98 L458.59,248.56 L459.11,247.62 L459.57,247.22 L460.00,245.84 L460.41,246.57 L460.81,246.37 L461.23,244.54 L461.68,243.42 L462.16,242.16 L462.64,242.14 L463.12,239.91 L463.61,238.29 L464.10,237.39 L464.60,235.96 L465.09,234.48 L465.59,232.37 L466.10,230.74 L466.61,229.00 L467.12,226.72 L467.64,225.02 L468.16,223.95 L468.68,222.04 L469.20,221.08 L469.72,221.23 L470.24,221.35 L470.76,221.00 L471.28,221.84 L471.80,224.26 L472.31,224.91 L472.83,225.67 L473.34,226.89 L473.85,228.41 L474.34,230.01 L474.82,230.92 L475.30,231.37 L475.77,232.99 L476.25,234.59 L476.74,236.20 L477.24,237.19 L477.76,237.61 L478.29,238.14 L478.85,239.37 L479.41,239.21 L479.98,240.62 L480.56,240.75 L481.15,241.79 L481.73,242.27 L482.32,242.49 L482.89,244.22 L483.44,244.42 L483.98,245.03 L484.53,245.26 L485.10,245.68 L485.71,246.91 L486.37,248.34 L487.10,249.50 L487.91,250.84 L488.80,251.88 L489.75,253.53 L490.73,254.31 L491.72,256.46 L492.70,257.78 L493.62,258.51 L494.48,258.89 L495.26,258.79 L495.97,258.46 L496.64,257.95 L497.29,257.35 L497.94,257.04 L498.62,256.33 L499.34,255.70 L500.13,254.47 L500.99,254.32 L501.92,254.92 L502.88,255.05 L503.87,255.00 L504.87,254.51 L505.86,254.09 L506.82,253.95 L507.73,254.72 L508.61,253.66 L509.48,253.01 L510.33,252.77 L511.16,251.64 L511.98,251.07 L512.76,249.88 L513.52,249.32 L514.25,248.38 L514.91,247.67 L515.51,248.34 L516.06,248.55 L516.59,248.92 L517.13,249.57 L517.70,248.93 L518.32,249.16 L519.02,250.11 L519.85,250.45 L520.82,249.48 L521.85,249.05 L522.91,248.89 L523.92,249.42 L524.85,249.47 L525.62,249.87 L526.19,250.02" stroke="#111111" stroke-width="1.1" fill="none" stroke-linejoin="round" stroke-opacity="0.9"/>
<path d="M427.80,248.66 L428.63,249.03 L429.75,248.15 L431.10,248.91 L432.58,249.63 L434.11,249.61 L435.62,249.48 L437.02,249.98 L438.23,249.09 L439.27,249.80 L440.22,249.28 L441.12,249.81 L441.96,249.56 L442.77,250.71 L443.57,249.48 L444.36,249.52 L445.18,249.58 L445.99,249.85 L446.79,250.04 L447.58,250.71 L448.35,250.67 L449.13,251.09 L449.90,251.80 L450.68,251.58 L451.47,251.79 L452.30,251.62 L453.15,250.17 L454.03,250.05 L454.90,250.29 L455.74,249.32 L456.56,249.54 L457.31,249.07 L457.99,248.51 L458.59,247.64 L459.11,246.95 L459.57,247.17 L460.00,247.09 L460.41,246.13 L460.81,245.17 L461.23,245.32 L461.68,243.80 L462.16,242.74 L462.64,241.62 L463.12,240.41 L463.61,239.49 L464.10,237.23 L464.60,235.33 L465.09,234.64 L465.59,232.66 L466.10,230.84 L466.61,229.30 L467.12,227.34 L467.64,225.21 L468.16,223.61 L468.68,222.30 L469.20,220.17 L469.72,219.58 L470.24,219.84 L470.76,220.95 L471.28,222.08 L471.80,222.48 L472.31,224.01 L472.83,225.28 L473.34,227.02 L473.85,227.88 L474.34,228.84 L474.82,230.79 L475.30,232.42 L475.77,233.96 L476.25,235.07 L476.74,236.04 L477.24,237.44 L477.76,238.73 L478.29,239.31 L478.85,239.85 L479.41,240.24 L479.98,240.78 L480.56,241.51 L481.15,242.03 L481.73,242.70 L482.32,242.53 L482.89,244.01 L483.44,245.28 L483.98,245.77 L484.53,246.57 L485.10,247.97 L485.71,248.03 L486.37,249.35 L487.10,250.21 L487.91,250.18 L488.80,251.86 L489.75,253.67 L490.73,255.44 L491.72,255.92 L492.70,258.11 L493.62,258.62 L494.48,258.87 L495.26,258.34 L495.97,258.82 L496.64,258.13 L497.29,257.97 L497.94,256.82 L498.62,256.20 L499.34,255.76 L500.13,255.42 L500.99,255.44 L501.92,254.60 L502.88,254.92 L503.87,254.78 L504.87,255.01 L505.86,254.41 L506.82,253.98 L507.73,254.06 L508.61,253.71 L509.48,252.42 L510.33,251.71 L511.16,250.46 L511.98,249.19 L512.76,248.14 L513.52,247.68 L514.25,246.95 L514.91,248.16 L515.51,248.69 L516.06,248.51 L516.59,249.47 L517.13,249.61 L517.70,249.74 L518.32,250.26 L519.02,250.32 L519.85,249.53 L520.82,249.05 L521.85,249.11 L522.91,249.44 L523.92,249.92 L524.85,250.41 L525.62,249.88 L526.19,249.90" stroke="#e02424" stroke-width="1.1" fill="none" stroke-linejoin="round" stroke-opacity="0.9"/>
<path d="M427.80,247.93 L428.63,249.16 L429.75,248.65 L431.10,249.57 L432.58,248.68 L434.11,249.01 L435.62,248.96 L437.02,249.39 L438.23,249.40 L439.27,250.02 L440.22,249.96 L441.12,249.32 L441.96,249.87 L442.77,248.79 L443.57,249.12 L444.36,249.69 L445.18,249.82 L445.99,250.07 L446.79,249.59 L447.58,249.57 L448.35,250.04 L449.13,250.95 L449.90,251.27 L450.68,251.01 L451.47,250.47 L452.30,250.72 L453.15,250.20 L454.03,250.59 L454.90,249.89 L455.74,249.55 L456.56,249.17 L457.31,248.88 L457.99,248.70 L458.59,248.64 L459.11,247.77 L459.57,247.88 L460.00,247.29 L460.41,246.14 L460.81,245.52 L461.23,244.56 L461.68,243.53 L462.16,243.04 L462.64,241.22 L463.12,240.37 L463.61,238.22 L464.10,236.90 L464.60,235.65 L465.09,233.73 L465.59,231.66 L466.10,230.10 L466.61,228.99 L467.12,227.43 L467.64,224.82 L468.16,223.60 L468.68,222.34 L469.20,220.84 L469.72,220.37 L470.24,219.98 L470.76,220.44 L471.28,221.54 L471.80,222.62 L472.31,223.99 L472.83,225.15 L473.34,227.52 L473.85,227.97 L474.34,229.05 L474.82,230.09 L475.30,231.45 L475.77,232.83 L476.25,234.57 L476.74,235.97 L477.24,237.92 L477.76,238.96 L478.29,239.30 L478.85,240.86 L479.41,241.24 L479.98,241.00 L480.56,241.33 L481.15,242.95 L481.73,243.63 L482.32,243.22 L482.89,243.01 L483.44,243.86 L483.98,244.83 L484.53,245.11 L485.10,246.33 L485.71,247.90 L486.37,248.68 L487.10,248.79 L487.91,250.72 L488.80,252.54 L489.75,254.64 L490.73,255.66 L491.72,257.36 L492.70,258.04 L493.62,258.41 L494.48,258.45 L495.26,258.62 L495.97,258.74 L496.64,258.86 L497.29,257.87 L497.94,257.54 L498.62,256.45 L499.34,256.18 L500.13,255.84 L500.99,255.15 L501.92,255.76 L502.88,254.82 L503.87,254.93 L504.87,254.96 L505.86,254.01 L506.82,254.29 L507.73,253.84 L508.61,253.65 L509.48,253.13 L510.33,252.43 L511.16,251.32 L511.98,250.51 L512.76,249.11 L513.52,248.89 L514.25,249.02 L514.91,248.87 L515.51,247.77 L516.06,248.57 L516.59,248.71 L517.13,248.81 L517.70,249.66 L518.32,250.37 L519.02,250.06 L519.85,250.40 L520.82,249.33 L521.85,249.97 L522.91,249.12 L523.92,249.48 L524.85,248.82 L525.62,248.86 L526.19,249.31" stroke="#33b833" stroke-width="1.1" fill="none" stroke-linejoin="round" stroke-opacity="0.9"/>
<path d="M427.80,248.63 L428.63,248.38 L429.75,247.92 L431.10,248.08 L432.58,248.67 L434.11,248.66 L435.62,248.65 L437.02,249.25 L438.23,249.63 L439.27,249.61 L440.22,249.64 L441.12,249.19 L441.96,249.07 L442.77,249.14 L443.57,250.03 L444.36,249.55 L445.18,249.78 L445.99,250.08 L446.79,251.09 L447.58,251.69 L448.35,251.56 L449.13,251.94 L449.90,251.56 L450.68,251.47 L451.47,251.22 L452.30,250.78 L453.15,251.46 L454.03,250.15 L454.90,249.80 L455.74,249.23 L456.56,249.16 L457.31,248.59 L457.99,247.61 L458.59,247.68 L459.11,247.38 L459.57,247.08 L460.00,246.81 L460.41,245.98 L460.81,245.37 L461.23,244.78 L461.68,244.22 L462.16,242.57 L462.64,241.08 L463.12,239.62 L463.61,238.79 L464.10,237.19 L464.60,235.48 L465.09,234.41 L465.59,232.65 L466.10,231.30 L466.61,229.88 L467.12,227.34 L467.64,225.16 L468.16,223.36 L468.68,222.14 L469.20,220.25 L469.72,219.63 L470.24,219.77 L470.76,220.24 L471.28,220.98 L471.80,222.50 L472.31,224.19 L472.83,225.24 L473.34,226.48 L473.85,227.50 L474.34,229.32 L474.82,230.74 L475.30,231.71 L475.77,233.08 L476.25,234.49 L476.74,236.26 L477.24,237.19 L477.76,237.87 L478.29,238.68 L478.85,239.26 L479.41,240.24 L479.98,241.35 L480.56,241.40 L481.15,241.81 L481.73,242.97 L482.32,243.91 L482.89,244.18 L483.44,243.78 L483.98,244.62 L484.53,245.54 L485.10,246.33 L485.71,247.76 L486.37,248.96 L487.10,250.08 L487.91,251.11 L488.80,252.51 L489.75,254.18 L490.73,254.78 L491.72,255.86 L492.70,257.29 L493.62,259.01 L494.48,259.54 L495.26,258.64 L495.97,258.82 L496.64,258.45 L497.29,258.30 L497.94,256.61 L498.62,255.50 L499.34,254.94 L500.13,255.11 L500.99,255.82 L501.92,255.70 L502.88,255.46 L503.87,255.05 L504.87,254.88 L505.86,254.38 L506.82,254.33 L507.73,254.43 L508.61,254.08 L509.48,253.53 L510.33,251.89 L511.16,250.31 L511.98,250.08 L512.76,249.83 L513.52,249.09 L514.25,248.76 L514.91,248.44 L515.51,248.98 L516.06,248.53 L516.59,248.82 L517.13,248.86 L517.70,249.27 L518.32,249.45 L519.02,250.20 L519.85,250.57 L520.82,250.97 L521.85,250.08 L522.91,249.47 L523.92,248.47 L524.85,249.19 L525.62,249.24 L526.19,249.16" stroke="#2a56b8" stroke-width="1.1" fill="none" stroke-linejoin="round" stroke-opacity="0.9"/>
<path d="M427.80,248.81 L428.63,249.29 L429.75,249.81 L431.10,249.53 L432.58,249.63 L434.11,249.45 L435.62,249.28 L437.02,249.69 L438.23,249.87 L439.27,250.34 L440.22,249.41 L441.12,249.18 L441.96,248.70 L442.77,249.17 L443.57,249.29 L444.36,249.10 L445.18,249.69 L445.99,249.80 L446.79,249.91 L447.58,250.60 L448.35,251.04 L449.13,251.20 L449.90,251.62 L450.68,251.81 L451.47,251.12 L452.30,251.17 L453.15,251.03 L454.03,251.16 L454.90,249.94 L455.74,249.59 L456.56,249.18 L457.31,248.83 L457.99,248.44 L458.59,248.33 L459.11,248.01 L459.57,247.11 L460.00,247.18 L460.41,246.46 L460.81,245.62 L461.23,244.75 L461.68,243.75 L462.16,242.90 L462.64,242.02 L463.12,239.79 L463.61,238.38 L464.10,236.92 L464.60,235.76 L465.09,233.84 L465.59,231.58 L466.10,231.23 L466.61,228.79 L467.12,226.91 L467.64,224.50 L468.16,223.25 L468.68,221.56 L469.20,220.53 L469.72,220.58 L470.24,220.06 L470.76,221.00 L471.28,221.30 L471.80,222.61 L472.31,224.21 L472.83,225.22 L473.34,227.09 L473.85,227.73 L474.34,228.60 L474.82,229.81 L475.30,231.10 L475.77,233.11 L476.25,234.74 L476.74,236.30 L477.24,237.00 L477.76,238.46 L478.29,239.49 L478.85,240.21 L479.41,240.73 L479.98,241.20 L480.56,242.20 L481.15,242.42 L481.73,242.79 L482.32,243.14 L482.89,243.73 L483.44,244.99 L483.98,246.03 L484.53,246.51 L485.10,247.35 L485.71,247.89 L486.37,248.48 L487.10,249.04 L487.91,250.67 L488.80,251.70 L489.75,254.50 L490.73,255.93 L491.72,256.48 L492.70,256.43 L493.62,258.48 L494.48,259.18 L495.26,259.53 L495.97,259.14 L496.64,259.20 L497.29,258.33 L497.94,258.20 L498.62,256.88 L499.34,255.72 L500.13,256.16 L500.99,256.23 L501.92,255.86 L502.88,255.47 L503.87,255.40 L504.87,254.93 L505.86,254.33 L506.82,253.96 L507.73,253.39 L508.61,252.92 L509.48,252.03 L510.33,251.94 L511.16,251.50 L511.98,250.72 L512.76,249.67 L513.52,248.60 L514.25,249.33 L514.91,249.07 L515.51,248.75 L516.06,248.86 L516.59,248.77 L517.13,248.94 L517.70,249.31 L518.32,248.91 L519.02,248.56 L519.85,248.43 L520.82,248.74 L521.85,249.43 L522.91,249.29 L523.92,249.49 L524.85,250.18 L525.62,249.61 L526.19,250.35" stroke="#8857c8" stroke-width="1.1" fill="none" stroke-linejoin="round" stroke-opacity="0.9"/>
<path d="M427.80,249.02 L428.63,248.18 L429.75,247.94 L431.10,249.20 L432.58,249.66 L434.11,249.50 L435.62,248.64 L437.02,249.65 L438.23,249.25 L439.27,249.50 L440.22,250.37 L441.12,249.91 L441.96,249.74 L442.77,249.20 L443.57,249.51 L444.36,249.92 L445.18,250.07 L445.99,249.81 L446.79,250.08 L447.58,250.30 L448.35,250.80 L449.13,250.91 L449.90,251.37 L450.68,251.96 L451.47,251.68 L452.30,251.72 L453.15,251.19 L454.03,250.02 L454.90,250.59 L455.74,250.59 L456.56,250.74 L457.31,249.22 L457.99,248.90 L458.59,247.17 L459.11,247.72 L459.57,247.55 L460.00,246.45 L460.41,246.39 L460.81,245.84 L461.23,244.40 L461.68,243.29 L462.16,242.48 L462.64,241.23 L463.12,240.12 L463.61,238.79 L464.10,237.75 L464.60,235.83 L465.09,234.08 L465.59,232.06 L466.10,230.42 L466.61,228.68 L467.12,226.80 L467.64,224.71 L468.16,223.09 L468.68,221.89 L469.20,221.01 L469.72,220.49 L470.24,220.00 L470.76,220.15 L471.28,221.33 L471.80,222.63 L472.31,224.01 L472.83,224.54 L473.34,226.25 L473.85,227.44 L474.34,229.31 L474.82,230.16 L475.30,231.43 L475.77,233.10 L476.25,234.74 L476.74,235.61 L477.24,237.57 L477.76,238.75 L478.29,239.85 L478.85,240.28 L479.41,241.61 L479.98,241.07 L480.56,240.75 L481.15,241.35 L481.73,241.12 L482.32,241.82 L482.89,242.87 L483.44,244.53 L483.98,245.02 L484.53,245.59 L485.10,247.63 L485.71,248.66 L486.37,249.37 L487.10,250.00 L487.91,251.30 L488.80,252.55 L489.75,253.89 L490.73,254.25 L491.72,255.69 L492.70,257.09 L493.62,257.48 L494.48,258.31 L495.26,258.53 L495.97,258.58 L496.64,257.94 L497.29,256.87 L497.94,256.09 L498.62,256.13 L499.34,255.48 L500.13,255.75 L500.99,255.97 L501.92,255.01 L502.88,254.53 L503.87,255.13 L504.87,254.97 L505.86,254.63 L506.82,255.10 L507.73,254.61 L508.61,253.43 L509.48,252.79 L510.33,252.24 L511.16,251.44 L511.98,250.49 L512.76,250.25 L513.52,248.97 L514.25,248.92 L514.91,248.77 L515.51,248.78 L516.06,249.07 L516.59,249.16 L517.13,249.04 L517.70,250.28 L518.32,249.53 L519.02,249.63 L519.85,250.53 L520.82,249.65 L521.85,249.75 L522.91,249.03 L523.92,248.85 L524.85,248.92 L525.62,249.21 L526.19,249.48" stroke="#8c8c22" stroke-width="1.1" fill="none" stroke-linejoin="round" stroke-opacity="0.9"/>
<text x="404.8" y="294.2" font-family="Liberation Serif" font-size="11.5" text-anchor="start" font-weight="bold" font-style="normal" fill="#000" stroke="#000" stroke-width="0.299" >(k)</text>
<rect x="427.8" y="290.8" width="98.4" height="71.09999999999997" fill="none" stroke="#666" stroke-width="0.7"/>
<line x1="427.8" y1="361.9" x2="429.6" y2="361.9" stroke="#000" stroke-width="0.6" />
<text x="426.2" y="364.29999999999995" font-family="Liberation Sans" font-size="6.8" text-anchor="end" font-weight="normal" font-style="normal" fill="#111" stroke="#111" stroke-width="0.177" >-2</text>
<line x1="427.8" y1="338.2" x2="429.6" y2="338.2" stroke="#000" stroke-width="0.6" />
<text x="426.2" y="340.59999999999997" font-family="Liberation Sans" font-size="6.8" text-anchor="end" font-weight="normal" font-style="normal" fill="#111" stroke="#111" stroke-width="0.177" >0</text>
<line x1="427.8" y1="314.5" x2="429.6" y2="314.5" stroke="#000" stroke-width="0.6" />
<text x="426.2" y="316.9" font-family="Liberation Sans" font-size="6.8" text-anchor="end" font-weight="normal" font-style="normal" fill="#111" stroke="#111" stroke-width="0.177" >2</text>
<line x1="427.8" y1="290.8" x2="429.6" y2="290.8" stroke="#000" stroke-width="0.6" />
<text x="426.2" y="293.2" font-family="Liberation Sans" font-size="6.8" text-anchor="end" font-weight="normal" font-style="normal" fill="#111" stroke="#111" stroke-width="0.177" >4</text>
<line x1="427.8" y1="361.9" x2="427.8" y2="360.09999999999997" stroke="#000" stroke-width="0.6" />
<text x="427.8" y="370.09999999999997" font-family="Liberation Sans" font-size="6.8" text-anchor="middle" font-weight="normal" font-style="normal" fill="#111" stroke="#111" stroke-width="0.177" >0</text>
<line x1="449.52" y1="361.9" x2="449.52" y2="360.09999999999997" stroke="#000" stroke-width="0.6" />
<text x="449.52" y="370.09999999999997" font-family="Liberation Sans" font-size="6.8" text-anchor="middle" font-weight="normal" font-style="normal" fill="#111" stroke="#111" stroke-width="0.177" >1</text>
<line x1="471.24" y1="361.9" x2="471.24" y2="360.09999999999997" stroke="#000" stroke-width="0.6" />
<text x="471.24" y="370.09999999999997" font-family="Liberation Sans" font-size="6.8" text-anchor="middle" font-weight="normal" font-style="normal" fill="#111" stroke="#111" stroke-width="0.177" >2</text>
<line x1="492.96000000000004" y1="361.9" x2="492.96000000000004" y2="360.09999999999997" stroke="#000" stroke-width="0.6" />
<text x="492.96000000000004" y="370.09999999999997" font-family="Liberation Sans" font-size="6.8" text-anchor="middle" font-weight="normal" font-style="normal" fill="#111" stroke="#111" stroke-width="0.177" >3</text>
<line x1="514.6800000000001" y1="361.9" x2="514.6800000000001" y2="360.09999999999997" stroke="#000" stroke-width="0.6" />
<text x="514.6800000000001" y="370.09999999999997" font-family="Liberation Sans" font-size="6.8" text-anchor="middle" font-weight="normal" font-style="normal" fill="#111" stroke="#111" stroke-width="0.177" >4</text>
<text x="476.6" y="377.2" font-family="Liberation Sans" font-size="6.6" text-anchor="middle" font-weight="normal" font-style="normal" fill="#111" stroke="#111" stroke-width="0.172" >Time Delay (ps)</text>
<text x="0" y="0" font-family="Liberation Sans" font-size="7.1" text-anchor="middle" font-weight="normal" font-style="normal" fill="#111" stroke="#111" stroke-width="0.185" transform="translate(421.9,326.4) rotate(-90)">Amplitude (a.u.)</text>
<text x="434.3" y="304" font-family="Liberation Sans" font-size="8.6" text-anchor="start" font-weight="normal" font-style="normal" fill="#111" stroke="#111" stroke-width="0.224" >Vacuum</text>
<line x1="489.2" y1="295.5" x2="503.5" y2="295.5" stroke="#111111" stroke-width="1.8" />
<text x="505.3" y="297.7" font-family="Liberation Sans" font-size="6.4" text-anchor="start" font-weight="normal" font-style="normal" fill="#111" stroke="#111" stroke-width="0.166" >0 min</text>
<line x1="489.2" y1="302.6" x2="503.5" y2="302.6" stroke="#e02424" stroke-width="1.8" />
<text x="505.3" y="304.8" font-family="Liberation Sans" font-size="6.4" text-anchor="start" font-weight="normal" font-style="normal" fill="#111" stroke="#111" stroke-width="0.166" >2 min</text>
<line x1="489.2" y1="309.6" x2="503.5" y2="309.6" stroke="#33b833" stroke-width="1.8" />
<text x="505.3" y="311.8" font-family="Liberation Sans" font-size="6.4" text-anchor="start" font-weight="normal" font-style="normal" fill="#111" stroke="#111" stroke-width="0.166" >4 min</text>
<line x1="489.2" y1="317" x2="503.5" y2="317" stroke="#2a56b8" stroke-width="1.8" />
<text x="505.3" y="319.2" font-family="Liberation Sans" font-size="6.4" text-anchor="start" font-weight="normal" font-style="normal" fill="#111" stroke="#111" stroke-width="0.166" >6 min</text>
<line x1="489.2" y1="324" x2="503.5" y2="324" stroke="#8857c8" stroke-width="1.8" />
<text x="505.3" y="326.2" font-family="Liberation Sans" font-size="6.4" text-anchor="start" font-weight="normal" font-style="normal" fill="#111" stroke="#111" stroke-width="0.166" >8 min</text>
<line x1="489.2" y1="331.3" x2="503.5" y2="331.3" stroke="#8c8c22" stroke-width="1.8" />
<text x="505.3" y="333.5" font-family="Liberation Sans" font-size="6.4" text-anchor="start" font-weight="normal" font-style="normal" fill="#111" stroke="#111" stroke-width="0.166" >10 min</text>
<path d="M427.80,340.65 L428.93,340.29 L430.49,340.75 L432.35,340.61 L434.38,340.95 L436.48,340.99 L438.52,341.92 L440.37,341.79 L441.92,342.09 L443.18,341.46 L444.28,342.07 L445.26,342.12 L446.14,341.78 L446.97,341.44 L447.79,341.81 L448.62,341.95 L449.52,341.65 L450.48,342.56 L451.46,342.84 L452.46,343.12 L453.44,343.70 L454.40,344.13 L455.31,344.62 L456.15,343.76 L456.90,343.37 L457.56,343.42 L458.13,343.29 L458.63,342.86 L459.09,343.09 L459.52,342.65 L459.93,342.29 L460.36,341.23 L460.81,340.50 L461.26,339.19 L461.67,337.40 L462.05,336.48 L462.44,334.76 L462.86,333.59 L463.33,332.03 L463.87,329.87 L464.51,327.96 L465.27,325.27 L466.15,322.31 L467.12,318.57 L468.13,315.37 L469.15,312.73 L470.14,310.25 L471.07,307.93 L471.89,305.93 L472.61,306.26 L473.27,307.40 L473.87,309.34 L474.44,310.72 L474.99,311.76 L475.54,314.41 L476.09,316.48 L476.67,318.76 L477.27,320.66 L477.86,322.19 L478.45,324.88 L479.05,326.55 L479.64,328.78 L480.24,330.46 L480.84,332.05 L481.45,333.51 L482.04,335.19 L482.62,335.98 L483.18,336.99 L483.76,337.72 L484.35,338.55 L484.99,338.99 L485.68,339.28 L486.44,339.74 L487.29,341.29 L488.21,343.11 L489.19,344.96 L490.20,345.71 L491.24,347.25 L492.27,348.90 L493.29,350.41 L494.26,350.63 L495.20,349.97 L496.13,350.01 L497.05,349.77 L497.96,348.90 L498.87,348.18 L499.78,348.40 L500.71,347.95 L501.65,346.33 L502.62,346.01 L503.63,346.16 L504.66,346.08 L505.69,346.16 L506.71,345.30 L507.69,345.49 L508.61,344.66 L509.47,344.04 L510.25,344.04 L510.98,344.15 L511.66,343.85 L512.30,343.52 L512.92,343.26 L513.51,343.44 L514.10,342.73 L514.68,341.97 L515.23,342.93 L515.71,342.22 L516.16,341.69 L516.61,340.62 L517.07,340.16 L517.57,340.03 L518.14,339.34 L518.81,339.49 L519.62,339.49 L520.60,339.39 L521.66,340.12 L522.76,340.34 L523.82,341.11 L524.79,341.05 L525.60,341.67 L526.19,341.29" stroke="#111111" stroke-width="1.1" fill="none" stroke-linejoin="round" stroke-opacity="0.9"/>
<path d="M427.80,340.13 L428.93,340.02 L430.49,340.69 L432.35,340.89 L434.38,339.80 L436.48,340.76 L438.52,340.66 L440.37,341.29 L441.92,341.40 L443.18,342.18 L444.28,342.25 L445.26,341.90 L446.14,341.82 L446.97,342.77 L447.79,341.47 L448.62,341.97 L449.52,342.00 L450.48,342.26 L451.46,343.41 L452.46,343.71 L453.44,344.53 L454.40,343.87 L455.31,343.47 L456.15,342.42 L456.90,343.09 L457.56,344.35 L458.13,343.48 L458.63,343.40 L459.09,342.83 L459.52,341.63 L459.93,340.65 L460.36,340.80 L460.81,339.66 L461.26,337.98 L461.67,337.75 L462.05,336.19 L462.44,334.29 L462.86,333.41 L463.33,331.61 L463.87,329.51 L464.51,328.04 L465.27,325.65 L466.15,322.80 L467.12,320.10 L468.13,316.08 L469.15,313.11 L470.14,310.05 L471.07,307.55 L471.89,305.90 L472.61,305.30 L473.27,306.69 L473.87,308.17 L474.44,309.87 L474.99,312.21 L475.54,314.51 L476.09,316.81 L476.67,318.23 L477.27,319.97 L477.86,321.85 L478.45,324.51 L479.05,325.78 L479.64,329.14 L480.24,331.73 L480.84,332.96 L481.45,334.43 L482.04,335.21 L482.62,336.33 L483.18,337.05 L483.76,337.54 L484.35,337.52 L484.99,338.11 L485.68,339.17 L486.44,340.30 L487.29,341.37 L488.21,343.12 L489.19,345.02 L490.20,346.75 L491.24,348.10 L492.27,348.76 L493.29,349.45 L494.26,350.70 L495.20,350.31 L496.13,350.57 L497.05,350.98 L497.96,349.42 L498.87,349.01 L499.78,347.89 L500.71,347.42 L501.65,346.34 L502.62,345.85 L503.63,345.65 L504.66,345.96 L505.69,345.96 L506.71,345.13 L507.69,344.26 L508.61,344.47 L509.47,345.43 L510.25,344.38 L510.98,344.33 L511.66,343.64 L512.30,343.63 L512.92,342.76 L513.51,343.08 L514.10,343.55 L514.68,343.22 L515.23,343.24 L515.71,341.69 L516.16,340.77 L516.61,340.30 L517.07,340.43 L517.57,340.00 L518.14,340.82 L518.81,340.38 L519.62,340.46 L520.60,340.61 L521.66,339.76 L522.76,340.90 L523.82,340.54 L524.79,341.22 L525.60,342.38 L526.19,341.91" stroke="#e02424" stroke-width="1.1" fill="none" stroke-linejoin="round" stroke-opacity="0.9"/>
<path d="M427.80,339.56 L428.93,340.49 L430.49,340.64 L432.35,340.62 L434.38,341.06 L436.48,339.88 L438.52,340.48 L440.37,340.80 L441.92,341.95 L443.18,342.06 L444.28,341.88 L445.26,341.56 L446.14,341.50 L446.97,340.96 L447.79,341.99 L448.62,341.41 L449.52,342.39 L450.48,342.30 L451.46,341.85 L452.46,343.00 L453.44,343.81 L454.40,343.36 L455.31,343.59 L456.15,342.83 L456.90,342.80 L457.56,343.62 L458.13,343.03 L458.63,343.51 L459.09,342.16 L459.52,342.16 L459.93,341.82 L460.36,341.18 L460.81,340.11 L461.26,338.40 L461.67,337.47 L462.05,336.40 L462.44,335.15 L462.86,332.89 L463.33,331.93 L463.87,329.77 L464.51,327.45 L465.27,325.58 L466.15,322.71 L467.12,318.65 L468.13,315.13 L469.15,312.14 L470.14,308.94 L471.07,307.43 L471.89,306.32 L472.61,306.51 L473.27,307.07 L473.87,308.68 L474.44,309.53 L474.99,311.08 L475.54,313.13 L476.09,315.71 L476.67,317.99 L477.27,320.69 L477.86,322.35 L478.45,324.28 L479.05,326.44 L479.64,328.93 L480.24,329.84 L480.84,331.97 L481.45,334.07 L482.04,334.86 L482.62,335.94 L483.18,336.91 L483.76,337.96 L484.35,338.35 L484.99,338.97 L485.68,339.54 L486.44,339.44 L487.29,341.45 L488.21,343.05 L489.19,344.69 L490.20,346.03 L491.24,348.05 L492.27,349.39 L493.29,350.11 L494.26,350.24 L495.20,350.20 L496.13,350.33 L497.05,349.68 L497.96,349.05 L498.87,348.49 L499.78,347.26 L500.71,347.19 L501.65,346.11 L502.62,346.82 L503.63,345.17 L504.66,345.53 L505.69,344.89 L506.71,345.10 L507.69,345.85 L508.61,344.91 L509.47,344.80 L510.25,344.13 L510.98,344.19 L511.66,344.17 L512.30,343.55 L512.92,342.97 L513.51,342.05 L514.10,342.83 L514.68,341.83 L515.23,341.82 L515.71,341.67 L516.16,340.87 L516.61,340.30 L517.07,340.47 L517.57,339.73 L518.14,340.11 L518.81,340.56 L519.62,340.01 L520.60,339.85 L521.66,339.98 L522.76,340.17 L523.82,340.67 L524.79,340.27 L525.60,340.97 L526.19,340.99" stroke="#33b833" stroke-width="1.1" fill="none" stroke-linejoin="round" stroke-opacity="0.9"/>
<path d="M427.80,340.17 L428.93,340.91 L430.49,340.49 L432.35,340.35 L434.38,341.26 L436.48,341.39 L438.52,340.53 L440.37,341.69 L441.92,342.00 L443.18,341.20 L444.28,341.74 L445.26,341.65 L446.14,341.46 L446.97,341.63 L447.79,341.83 L448.62,342.11 L449.52,342.44 L450.48,342.26 L451.46,342.42 L452.46,342.61 L453.44,342.65 L454.40,342.55 L455.31,343.22 L456.15,343.47 L456.90,343.36 L457.56,344.62 L458.13,343.55 L458.63,343.09 L459.09,342.69 L459.52,342.05 L459.93,341.50 L460.36,341.34 L460.81,340.13 L461.26,338.70 L461.67,337.96 L462.05,336.31 L462.44,334.20 L462.86,332.24 L463.33,331.39 L463.87,329.79 L464.51,327.62 L465.27,324.31 L466.15,321.66 L467.12,318.90 L468.13,315.61 L469.15,312.36 L470.14,309.37 L471.07,307.63 L471.89,306.06 L472.61,305.79 L473.27,307.32 L473.87,308.74 L474.44,310.63 L474.99,312.23 L475.54,314.15 L476.09,316.71 L476.67,319.17 L477.27,321.19 L477.86,322.78 L478.45,324.34 L479.05,326.16 L479.64,328.22 L480.24,330.85 L480.84,333.39 L481.45,334.41 L482.04,335.45 L482.62,336.36 L483.18,336.61 L483.76,337.59 L484.35,337.56 L484.99,338.12 L485.68,338.96 L486.44,340.21 L487.29,341.30 L488.21,342.52 L489.19,344.32 L490.20,346.01 L491.24,347.48 L492.27,348.63 L493.29,349.09 L494.26,349.08 L495.20,350.20 L496.13,350.12 L497.05,350.81 L497.96,350.19 L498.87,349.35 L499.78,348.13 L500.71,347.66 L501.65,347.21 L502.62,346.69 L503.63,346.35 L504.66,345.96 L505.69,345.01 L506.71,345.31 L507.69,345.26 L508.61,345.34 L509.47,345.22 L510.25,345.21 L510.98,344.03 L511.66,343.03 L512.30,343.35 L512.92,343.33 L513.51,343.41 L514.10,342.78 L514.68,342.54 L515.23,342.21 L515.71,341.23 L516.16,340.22 L516.61,340.59 L517.07,340.45 L517.57,339.83 L518.14,339.51 L518.81,339.50 L519.62,339.33 L520.60,339.64 L521.66,339.92 L522.76,340.21 L523.82,340.72 L524.79,340.74 L525.60,341.51 L526.19,341.28" stroke="#2a56b8" stroke-width="1.1" fill="none" stroke-linejoin="round" stroke-opacity="0.9"/>
<path d="M427.80,340.65 L428.93,340.84 L430.49,340.23 L432.35,340.59 L434.38,341.54 L436.48,341.54 L438.52,341.17 L440.37,341.22 L441.92,341.29 L443.18,341.16 L444.28,341.84 L445.26,341.37 L446.14,342.28 L446.97,341.61 L447.79,342.47 L448.62,342.60 L449.52,342.14 L450.48,342.66 L451.46,342.48 L452.46,342.51 L453.44,343.01 L454.40,343.97 L455.31,343.77 L456.15,343.70 L456.90,342.49 L457.56,342.69 L458.13,343.31 L458.63,343.43 L459.09,342.52 L459.52,342.77 L459.93,341.93 L460.36,341.16 L460.81,340.31 L461.26,339.53 L461.67,337.76 L462.05,336.44 L462.44,334.92 L462.86,333.16 L463.33,331.63 L463.87,330.19 L464.51,327.51 L465.27,325.25 L466.15,322.13 L467.12,318.64 L468.13,314.69 L469.15,312.93 L470.14,309.84 L471.07,308.22 L471.89,306.90 L472.61,306.73 L473.27,307.46 L473.87,307.96 L474.44,310.01 L474.99,312.08 L475.54,314.33 L476.09,316.54 L476.67,318.01 L477.27,319.53 L477.86,322.08 L478.45,323.72 L479.05,325.66 L479.64,327.47 L480.24,329.13 L480.84,331.35 L481.45,334.32 L482.04,335.12 L482.62,336.43 L483.18,337.40 L483.76,337.49 L484.35,337.72 L484.99,339.00 L485.68,339.87 L486.44,340.49 L487.29,341.72 L488.21,342.51 L489.19,344.09 L490.20,345.58 L491.24,347.84 L492.27,348.48 L493.29,349.92 L494.26,350.32 L495.20,350.98 L496.13,350.01 L497.05,350.11 L497.96,349.08 L498.87,348.23 L499.78,348.17 L500.71,347.40 L501.65,347.09 L502.62,346.18 L503.63,346.39 L504.66,345.69 L505.69,346.21 L506.71,345.59 L507.69,344.93 L508.61,345.30 L509.47,344.06 L510.25,344.28 L510.98,344.35 L511.66,342.81 L512.30,343.37 L512.92,343.30 L513.51,343.21 L514.10,343.17 L514.68,342.83 L515.23,342.22 L515.71,341.35 L516.16,341.90 L516.61,340.01 L517.07,340.57 L517.57,340.53 L518.14,339.59 L518.81,340.42 L519.62,340.57 L520.60,340.12 L521.66,340.29 L522.76,341.25 L523.82,341.02 L524.79,340.68 L525.60,340.94 L526.19,341.61" stroke="#8857c8" stroke-width="1.1" fill="none" stroke-linejoin="round" stroke-opacity="0.9"/>
<path d="M427.80,340.30 L428.93,340.38 L430.49,339.79 L432.35,339.63 L434.38,340.44 L436.48,341.03 L438.52,340.94 L440.37,341.38 L441.92,341.97 L443.18,342.79 L444.28,341.88 L445.26,341.47 L446.14,341.08 L446.97,342.23 L447.79,341.80 L448.62,341.56 L449.52,342.15 L450.48,342.19 L451.46,341.94 L452.46,342.42 L453.44,342.68 L454.40,342.71 L455.31,343.36 L456.15,343.12 L456.90,342.71 L457.56,342.96 L458.13,342.66 L458.63,342.50 L459.09,341.86 L459.52,342.10 L459.93,341.86 L460.36,341.33 L460.81,340.45 L461.26,338.86 L461.67,337.98 L462.05,335.83 L462.44,334.80 L462.86,333.77 L463.33,332.23 L463.87,330.04 L464.51,327.92 L465.27,325.80 L466.15,322.55 L467.12,318.75 L468.13,315.43 L469.15,312.17 L470.14,309.60 L471.07,306.84 L471.89,305.68 L472.61,305.73 L473.27,306.74 L473.87,308.13 L474.44,310.09 L474.99,312.23 L475.54,313.68 L476.09,316.86 L476.67,318.26 L477.27,319.97 L477.86,321.97 L478.45,324.57 L479.05,326.55 L479.64,327.43 L480.24,329.30 L480.84,332.00 L481.45,333.52 L482.04,334.29 L482.62,335.39 L483.18,337.15 L483.76,336.95 L484.35,337.52 L484.99,338.40 L485.68,338.77 L486.44,339.63 L487.29,340.65 L488.21,342.35 L489.19,343.75 L490.20,345.95 L491.24,347.50 L492.27,348.70 L493.29,349.91 L494.26,350.62 L495.20,351.28 L496.13,351.25 L497.05,350.77 L497.96,349.25 L498.87,348.59 L499.78,347.37 L500.71,347.52 L501.65,346.70 L502.62,345.91 L503.63,346.36 L504.66,346.13 L505.69,345.59 L506.71,345.94 L507.69,345.55 L508.61,345.37 L509.47,344.19 L510.25,344.55 L510.98,343.76 L511.66,343.31 L512.30,343.06 L512.92,343.36 L513.51,342.76 L514.10,342.34 L514.68,342.73 L515.23,341.89 L515.71,341.08 L516.16,340.61 L516.61,340.56 L517.07,340.40 L517.57,340.16 L518.14,339.22 L518.81,339.82 L519.62,339.66 L520.60,339.58 L521.66,339.37 L522.76,340.12 L523.82,340.95 L524.79,341.18 L525.60,341.46 L526.19,341.49" stroke="#8c8c22" stroke-width="1.1" fill="none" stroke-linejoin="round" stroke-opacity="0.9"/>
</svg>
</body></html>
